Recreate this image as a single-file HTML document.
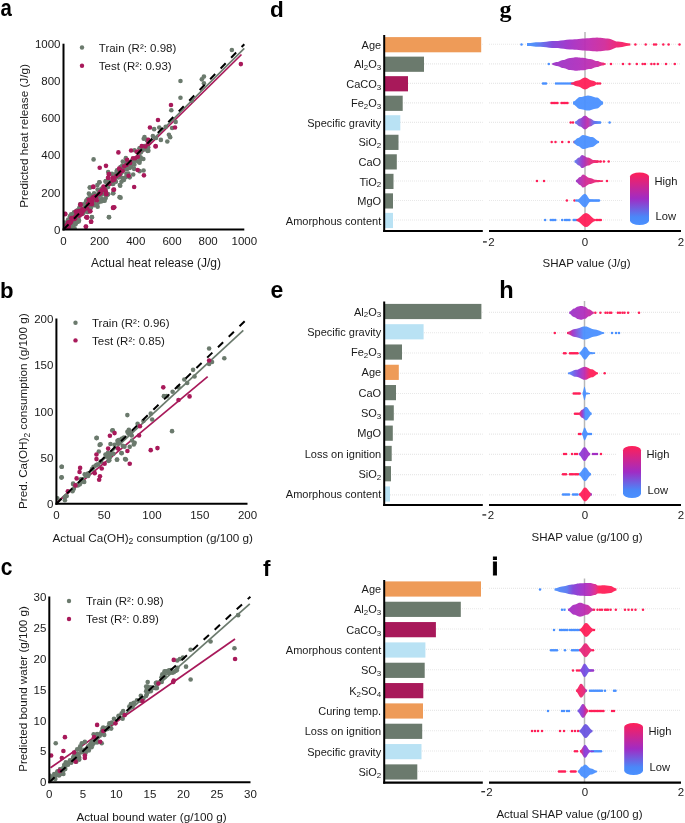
<!DOCTYPE html>
<html><head><meta charset="utf-8"><style>
html,body{margin:0;padding:0;background:#fff;width:685px;height:823px;overflow:hidden}
svg{display:block;will-change:transform}
</style></head><body>
<svg width="685" height="823" viewBox="0 0 685 823">
<rect width="685" height="823" fill="#fff"/>
<text transform="translate(0.5,15.6) scale(0.97,1.12)" font-size="21" font-weight="bold" font-family='"Liberation Sans", sans-serif' fill="#000" >a</text>
<text transform="translate(0,297.9) scale(1.03,1.06)" font-size="21.5" font-weight="bold" font-family='"Liberation Sans", sans-serif' fill="#000" >b</text>
<text transform="translate(0.8,575.2) scale(1.0,1.13)" font-size="21" font-weight="bold" font-family='"Liberation Sans", sans-serif' fill="#000" >c</text>
<text transform="translate(270,17.4) scale(1.0,1.0)" font-size="22.5" font-weight="bold" font-family='"Liberation Sans", sans-serif' fill="#000" >d</text>
<text transform="translate(270.5,298) scale(1.0,1.0)" font-size="23" font-weight="bold" font-family='"Liberation Sans", sans-serif' fill="#000" >e</text>
<text transform="translate(263,575.6) scale(1.0,1.0)" font-size="22.5" font-weight="bold" font-family='"Liberation Sans", sans-serif' fill="#000" >f</text>
<text transform="translate(499.5,17.2) scale(1.0,1.0)" font-size="24" font-weight="bold" font-family='"Liberation Serif", serif' fill="#000" >g</text>
<text transform="translate(499.3,297.9) scale(1.05,1.03)" font-size="22.5" font-weight="bold" font-family='"Liberation Sans", sans-serif' fill="#000" >h</text>
<text transform="translate(491.8,575.4) scale(1.0,1.0)" font-size="23" font-weight="bold" font-family='"Liberation Sans", sans-serif' fill="#000" stroke="#000" stroke-width="0.9">i</text>
<text x="63.50" y="244.80" font-size="11.5" text-anchor="middle" font-weight="normal" font-family='"Liberation Sans", sans-serif' fill="#1a1a1a" >0</text>
<text x="60.50" y="233.60" font-size="11.5" text-anchor="end" font-weight="normal" font-family='"Liberation Sans", sans-serif' fill="#1a1a1a" >0</text>
<text x="99.66" y="244.80" font-size="11.5" text-anchor="middle" font-weight="normal" font-family='"Liberation Sans", sans-serif' fill="#1a1a1a" >200</text>
<text x="60.50" y="196.54" font-size="11.5" text-anchor="end" font-weight="normal" font-family='"Liberation Sans", sans-serif' fill="#1a1a1a" >200</text>
<text x="135.82" y="244.80" font-size="11.5" text-anchor="middle" font-weight="normal" font-family='"Liberation Sans", sans-serif' fill="#1a1a1a" >400</text>
<text x="60.50" y="159.48" font-size="11.5" text-anchor="end" font-weight="normal" font-family='"Liberation Sans", sans-serif' fill="#1a1a1a" >400</text>
<text x="171.98" y="244.80" font-size="11.5" text-anchor="middle" font-weight="normal" font-family='"Liberation Sans", sans-serif' fill="#1a1a1a" >600</text>
<text x="60.50" y="122.42" font-size="11.5" text-anchor="end" font-weight="normal" font-family='"Liberation Sans", sans-serif' fill="#1a1a1a" >600</text>
<text x="208.14" y="244.80" font-size="11.5" text-anchor="middle" font-weight="normal" font-family='"Liberation Sans", sans-serif' fill="#1a1a1a" >800</text>
<text x="60.50" y="85.36" font-size="11.5" text-anchor="end" font-weight="normal" font-family='"Liberation Sans", sans-serif' fill="#1a1a1a" >800</text>
<text x="244.30" y="244.80" font-size="11.5" text-anchor="middle" font-weight="normal" font-family='"Liberation Sans", sans-serif' fill="#1a1a1a" >1000</text>
<text x="60.50" y="48.30" font-size="11.5" text-anchor="end" font-weight="normal" font-family='"Liberation Sans", sans-serif' fill="#1a1a1a" >1000</text>
<line x1="63.50" y1="228.50" x2="244.30" y2="48.30" stroke="#6b7a6d" stroke-width="1.7" />
<line x1="63.50" y1="229.50" x2="241.50" y2="54.50" stroke="#a8195a" stroke-width="1.7" />
<clipPath id="clip1"><rect x="63.5" y="38.2" width="186.8" height="191.3"/></clipPath>
<g clip-path="url(#clip1)">
<circle cx="67.86" cy="225.97" r="2.3" fill="#6b7a6d"/>
<circle cx="74.08" cy="220.31" r="2.3" fill="#6b7a6d"/>
<circle cx="78.18" cy="211.35" r="2.3" fill="#6b7a6d"/>
<circle cx="66.12" cy="226.17" r="2.3" fill="#6b7a6d"/>
<circle cx="87.42" cy="204.09" r="2.3" fill="#6b7a6d"/>
<circle cx="121.56" cy="170.01" r="2.3" fill="#6b7a6d"/>
<circle cx="104.62" cy="187.91" r="2.3" fill="#6b7a6d"/>
<circle cx="130.49" cy="164.56" r="2.3" fill="#6b7a6d"/>
<circle cx="66.91" cy="228.26" r="2.3" fill="#6b7a6d"/>
<circle cx="80.32" cy="206.55" r="2.3" fill="#6b7a6d"/>
<circle cx="103.87" cy="191.92" r="2.3" fill="#6b7a6d"/>
<circle cx="69.46" cy="224.05" r="2.3" fill="#6b7a6d"/>
<circle cx="105.57" cy="191.20" r="2.3" fill="#6b7a6d"/>
<circle cx="72.17" cy="216.89" r="2.3" fill="#6b7a6d"/>
<circle cx="113.91" cy="180.15" r="2.3" fill="#6b7a6d"/>
<circle cx="88.82" cy="199.28" r="2.3" fill="#6b7a6d"/>
<circle cx="101.28" cy="190.28" r="2.3" fill="#6b7a6d"/>
<circle cx="85.40" cy="208.43" r="2.3" fill="#6b7a6d"/>
<circle cx="77.64" cy="210.41" r="2.3" fill="#6b7a6d"/>
<circle cx="110.04" cy="182.25" r="2.3" fill="#6b7a6d"/>
<circle cx="131.11" cy="166.59" r="2.3" fill="#6b7a6d"/>
<circle cx="106.45" cy="194.22" r="2.3" fill="#6b7a6d"/>
<circle cx="121.46" cy="181.72" r="2.3" fill="#6b7a6d"/>
<circle cx="83.79" cy="208.78" r="2.3" fill="#6b7a6d"/>
<circle cx="122.95" cy="169.47" r="2.3" fill="#6b7a6d"/>
<circle cx="82.84" cy="213.58" r="2.3" fill="#6b7a6d"/>
<circle cx="76.86" cy="215.60" r="2.3" fill="#6b7a6d"/>
<circle cx="85.72" cy="206.08" r="2.3" fill="#6b7a6d"/>
<circle cx="70.66" cy="227.75" r="2.3" fill="#6b7a6d"/>
<circle cx="76.49" cy="212.19" r="2.3" fill="#6b7a6d"/>
<circle cx="89.05" cy="201.02" r="2.3" fill="#6b7a6d"/>
<circle cx="75.51" cy="224.29" r="2.3" fill="#6b7a6d"/>
<circle cx="89.08" cy="202.24" r="2.3" fill="#6b7a6d"/>
<circle cx="70.21" cy="223.46" r="2.3" fill="#6b7a6d"/>
<circle cx="77.53" cy="218.28" r="2.3" fill="#6b7a6d"/>
<circle cx="75.62" cy="219.19" r="2.3" fill="#6b7a6d"/>
<circle cx="79.88" cy="207.97" r="2.3" fill="#6b7a6d"/>
<circle cx="81.37" cy="213.83" r="2.3" fill="#6b7a6d"/>
<circle cx="94.09" cy="193.35" r="2.3" fill="#6b7a6d"/>
<circle cx="143.36" cy="158.99" r="2.3" fill="#6b7a6d"/>
<circle cx="75.04" cy="214.25" r="2.3" fill="#6b7a6d"/>
<circle cx="65.45" cy="224.97" r="2.3" fill="#6b7a6d"/>
<circle cx="68.20" cy="225.49" r="2.3" fill="#6b7a6d"/>
<circle cx="67.88" cy="224.35" r="2.3" fill="#6b7a6d"/>
<circle cx="74.02" cy="212.21" r="2.3" fill="#6b7a6d"/>
<circle cx="96.99" cy="195.37" r="2.3" fill="#6b7a6d"/>
<circle cx="73.55" cy="220.89" r="2.3" fill="#6b7a6d"/>
<circle cx="122.95" cy="169.30" r="2.3" fill="#6b7a6d"/>
<circle cx="77.50" cy="214.41" r="2.3" fill="#6b7a6d"/>
<circle cx="71.16" cy="221.24" r="2.3" fill="#6b7a6d"/>
<circle cx="97.39" cy="185.08" r="2.3" fill="#6b7a6d"/>
<circle cx="67.74" cy="224.24" r="2.3" fill="#6b7a6d"/>
<circle cx="64.28" cy="236.94" r="2.3" fill="#6b7a6d"/>
<circle cx="140.79" cy="157.62" r="2.3" fill="#6b7a6d"/>
<circle cx="74.11" cy="216.17" r="2.3" fill="#6b7a6d"/>
<circle cx="86.04" cy="201.41" r="2.3" fill="#6b7a6d"/>
<circle cx="69.95" cy="219.62" r="2.3" fill="#6b7a6d"/>
<circle cx="143.57" cy="170.50" r="2.3" fill="#6b7a6d"/>
<circle cx="115.17" cy="178.21" r="2.3" fill="#6b7a6d"/>
<circle cx="64.34" cy="225.09" r="2.3" fill="#6b7a6d"/>
<circle cx="71.58" cy="221.93" r="2.3" fill="#6b7a6d"/>
<circle cx="134.48" cy="150.26" r="2.3" fill="#6b7a6d"/>
<circle cx="148.17" cy="140.38" r="2.3" fill="#6b7a6d"/>
<circle cx="70.06" cy="223.99" r="2.3" fill="#6b7a6d"/>
<circle cx="69.41" cy="228.73" r="2.3" fill="#6b7a6d"/>
<circle cx="107.17" cy="194.84" r="2.3" fill="#6b7a6d"/>
<circle cx="117.01" cy="170.18" r="2.3" fill="#6b7a6d"/>
<circle cx="142.97" cy="146.88" r="2.3" fill="#6b7a6d"/>
<circle cx="107.12" cy="183.05" r="2.3" fill="#6b7a6d"/>
<circle cx="86.67" cy="200.35" r="2.3" fill="#6b7a6d"/>
<circle cx="133.18" cy="174.54" r="2.3" fill="#6b7a6d"/>
<circle cx="97.65" cy="189.61" r="2.3" fill="#6b7a6d"/>
<circle cx="67.87" cy="220.47" r="2.3" fill="#6b7a6d"/>
<circle cx="87.41" cy="210.50" r="2.3" fill="#6b7a6d"/>
<circle cx="139.80" cy="160.33" r="2.3" fill="#6b7a6d"/>
<circle cx="63.91" cy="226.06" r="2.3" fill="#6b7a6d"/>
<circle cx="139.61" cy="171.16" r="2.3" fill="#6b7a6d"/>
<circle cx="88.72" cy="206.60" r="2.3" fill="#6b7a6d"/>
<circle cx="98.91" cy="195.06" r="2.3" fill="#6b7a6d"/>
<circle cx="80.46" cy="209.79" r="2.3" fill="#6b7a6d"/>
<circle cx="75.62" cy="212.35" r="2.3" fill="#6b7a6d"/>
<circle cx="76.75" cy="210.73" r="2.3" fill="#6b7a6d"/>
<circle cx="120.22" cy="185.80" r="2.3" fill="#6b7a6d"/>
<circle cx="78.88" cy="210.51" r="2.3" fill="#6b7a6d"/>
<circle cx="64.04" cy="230.74" r="2.3" fill="#6b7a6d"/>
<circle cx="86.62" cy="206.02" r="2.3" fill="#6b7a6d"/>
<circle cx="77.20" cy="216.89" r="2.3" fill="#6b7a6d"/>
<circle cx="78.49" cy="219.60" r="2.3" fill="#6b7a6d"/>
<circle cx="116.53" cy="172.14" r="2.3" fill="#6b7a6d"/>
<circle cx="71.51" cy="219.02" r="2.3" fill="#6b7a6d"/>
<circle cx="108.03" cy="194.35" r="2.3" fill="#6b7a6d"/>
<circle cx="134.38" cy="164.70" r="2.3" fill="#6b7a6d"/>
<circle cx="107.97" cy="194.24" r="2.3" fill="#6b7a6d"/>
<circle cx="78.93" cy="214.92" r="2.3" fill="#6b7a6d"/>
<circle cx="90.74" cy="205.78" r="2.3" fill="#6b7a6d"/>
<circle cx="129.73" cy="177.36" r="2.3" fill="#6b7a6d"/>
<circle cx="121.42" cy="171.38" r="2.3" fill="#6b7a6d"/>
<circle cx="76.29" cy="218.71" r="2.3" fill="#6b7a6d"/>
<circle cx="70.46" cy="218.29" r="2.3" fill="#6b7a6d"/>
<circle cx="120.00" cy="170.62" r="2.3" fill="#6b7a6d"/>
<circle cx="84.22" cy="210.53" r="2.3" fill="#6b7a6d"/>
<circle cx="147.65" cy="150.98" r="2.3" fill="#6b7a6d"/>
<circle cx="91.05" cy="206.73" r="2.3" fill="#6b7a6d"/>
<circle cx="144.23" cy="146.00" r="2.3" fill="#6b7a6d"/>
<circle cx="75.98" cy="220.61" r="2.3" fill="#6b7a6d"/>
<circle cx="72.71" cy="220.83" r="2.3" fill="#6b7a6d"/>
<circle cx="93.03" cy="205.30" r="2.3" fill="#6b7a6d"/>
<circle cx="73.09" cy="221.40" r="2.3" fill="#6b7a6d"/>
<circle cx="108.17" cy="171.99" r="2.3" fill="#6b7a6d"/>
<circle cx="122.29" cy="165.44" r="2.3" fill="#6b7a6d"/>
<circle cx="71.18" cy="216.36" r="2.3" fill="#6b7a6d"/>
<circle cx="67.25" cy="224.50" r="2.3" fill="#6b7a6d"/>
<circle cx="89.87" cy="202.43" r="2.3" fill="#6b7a6d"/>
<circle cx="90.09" cy="206.65" r="2.3" fill="#6b7a6d"/>
<circle cx="113.96" cy="178.76" r="2.3" fill="#6b7a6d"/>
<circle cx="105.50" cy="187.67" r="2.3" fill="#6b7a6d"/>
<circle cx="90.64" cy="208.27" r="2.3" fill="#6b7a6d"/>
<circle cx="88.27" cy="211.08" r="2.3" fill="#6b7a6d"/>
<circle cx="88.46" cy="208.90" r="2.3" fill="#6b7a6d"/>
<circle cx="120.91" cy="172.06" r="2.3" fill="#6b7a6d"/>
<circle cx="67.24" cy="228.16" r="2.3" fill="#6b7a6d"/>
<circle cx="68.17" cy="225.35" r="2.3" fill="#6b7a6d"/>
<circle cx="69.34" cy="224.87" r="2.3" fill="#6b7a6d"/>
<circle cx="101.34" cy="188.79" r="2.3" fill="#6b7a6d"/>
<circle cx="68.65" cy="224.84" r="2.3" fill="#6b7a6d"/>
<circle cx="63.94" cy="228.60" r="2.3" fill="#6b7a6d"/>
<circle cx="109.37" cy="182.60" r="2.3" fill="#6b7a6d"/>
<circle cx="125.85" cy="162.30" r="2.3" fill="#6b7a6d"/>
<circle cx="105.71" cy="198.12" r="2.3" fill="#6b7a6d"/>
<circle cx="78.16" cy="215.01" r="2.3" fill="#6b7a6d"/>
<circle cx="122.62" cy="178.17" r="2.3" fill="#6b7a6d"/>
<circle cx="111.98" cy="173.70" r="2.3" fill="#6b7a6d"/>
<circle cx="73.55" cy="217.98" r="2.3" fill="#6b7a6d"/>
<circle cx="84.93" cy="207.91" r="2.3" fill="#6b7a6d"/>
<circle cx="68.22" cy="219.60" r="2.3" fill="#6b7a6d"/>
<circle cx="140.14" cy="148.19" r="2.3" fill="#6b7a6d"/>
<circle cx="70.51" cy="223.66" r="2.3" fill="#6b7a6d"/>
<circle cx="76.40" cy="213.07" r="2.3" fill="#6b7a6d"/>
<circle cx="91.32" cy="196.97" r="2.3" fill="#6b7a6d"/>
<circle cx="91.43" cy="203.25" r="2.3" fill="#6b7a6d"/>
<circle cx="73.82" cy="216.03" r="2.3" fill="#6b7a6d"/>
<circle cx="78.04" cy="215.31" r="2.3" fill="#6b7a6d"/>
<circle cx="78.10" cy="212.38" r="2.3" fill="#6b7a6d"/>
<circle cx="75.06" cy="218.16" r="2.3" fill="#6b7a6d"/>
<circle cx="64.15" cy="229.60" r="2.3" fill="#6b7a6d"/>
<circle cx="108.69" cy="181.87" r="2.3" fill="#6b7a6d"/>
<circle cx="112.64" cy="184.05" r="2.3" fill="#6b7a6d"/>
<circle cx="72.93" cy="227.24" r="2.3" fill="#6b7a6d"/>
<circle cx="126.95" cy="169.17" r="2.3" fill="#6b7a6d"/>
<circle cx="87.66" cy="211.93" r="2.3" fill="#6b7a6d"/>
<circle cx="139.04" cy="157.21" r="2.3" fill="#6b7a6d"/>
<circle cx="78.65" cy="221.56" r="2.3" fill="#6b7a6d"/>
<circle cx="87.65" cy="203.33" r="2.3" fill="#6b7a6d"/>
<circle cx="119.87" cy="184.93" r="2.3" fill="#6b7a6d"/>
<circle cx="113.74" cy="180.41" r="2.3" fill="#6b7a6d"/>
<circle cx="73.93" cy="218.47" r="2.3" fill="#6b7a6d"/>
<circle cx="87.68" cy="211.47" r="2.3" fill="#6b7a6d"/>
<circle cx="113.35" cy="183.75" r="2.3" fill="#6b7a6d"/>
<circle cx="63.60" cy="227.95" r="2.3" fill="#6b7a6d"/>
<circle cx="78.98" cy="220.39" r="2.3" fill="#6b7a6d"/>
<circle cx="94.46" cy="199.65" r="2.3" fill="#6b7a6d"/>
<circle cx="71.18" cy="224.57" r="2.3" fill="#6b7a6d"/>
<circle cx="98.74" cy="196.02" r="2.3" fill="#6b7a6d"/>
<circle cx="74.57" cy="228.34" r="2.3" fill="#6b7a6d"/>
<circle cx="83.28" cy="209.66" r="2.3" fill="#6b7a6d"/>
<circle cx="94.81" cy="205.31" r="2.3" fill="#6b7a6d"/>
<circle cx="70.85" cy="222.47" r="2.3" fill="#6b7a6d"/>
<circle cx="92.81" cy="204.76" r="2.3" fill="#6b7a6d"/>
<circle cx="71.28" cy="224.36" r="2.3" fill="#6b7a6d"/>
<circle cx="101.37" cy="199.27" r="2.3" fill="#6b7a6d"/>
<circle cx="76.94" cy="218.21" r="2.3" fill="#6b7a6d"/>
<circle cx="128.21" cy="165.84" r="2.3" fill="#6b7a6d"/>
<circle cx="146.86" cy="140.36" r="2.3" fill="#6b7a6d"/>
<circle cx="122.18" cy="171.64" r="2.3" fill="#6b7a6d"/>
<circle cx="71.27" cy="219.91" r="2.3" fill="#6b7a6d"/>
<circle cx="80.32" cy="204.18" r="2.3" fill="#6b7a6d"/>
<circle cx="78.66" cy="212.83" r="2.3" fill="#6b7a6d"/>
<circle cx="108.06" cy="186.93" r="2.3" fill="#6b7a6d"/>
<circle cx="140.97" cy="152.35" r="2.3" fill="#6b7a6d"/>
<circle cx="64.22" cy="222.43" r="2.3" fill="#6b7a6d"/>
<circle cx="77.72" cy="218.63" r="2.3" fill="#6b7a6d"/>
<circle cx="73.45" cy="218.92" r="2.3" fill="#6b7a6d"/>
<circle cx="87.81" cy="198.82" r="2.3" fill="#6b7a6d"/>
<circle cx="96.12" cy="197.66" r="2.3" fill="#6b7a6d"/>
<circle cx="141.21" cy="149.15" r="2.3" fill="#6b7a6d"/>
<circle cx="74.87" cy="220.14" r="2.3" fill="#6b7a6d"/>
<circle cx="138.08" cy="161.49" r="2.3" fill="#6b7a6d"/>
<circle cx="64.90" cy="225.68" r="2.3" fill="#6b7a6d"/>
<circle cx="87.65" cy="208.18" r="2.3" fill="#6b7a6d"/>
<circle cx="71.19" cy="214.35" r="2.3" fill="#6b7a6d"/>
<circle cx="68.99" cy="229.83" r="2.3" fill="#6b7a6d"/>
<circle cx="143.72" cy="138.76" r="2.3" fill="#6b7a6d"/>
<circle cx="120.50" cy="167.08" r="2.3" fill="#6b7a6d"/>
<circle cx="93.95" cy="201.93" r="2.3" fill="#6b7a6d"/>
<circle cx="106.29" cy="187.72" r="2.3" fill="#6b7a6d"/>
<circle cx="64.92" cy="232.49" r="2.3" fill="#6b7a6d"/>
<circle cx="126.39" cy="173.86" r="2.3" fill="#6b7a6d"/>
<circle cx="84.88" cy="208.04" r="2.3" fill="#6b7a6d"/>
<circle cx="129.75" cy="167.99" r="2.3" fill="#6b7a6d"/>
<circle cx="104.55" cy="193.09" r="2.3" fill="#6b7a6d"/>
<circle cx="68.18" cy="223.12" r="2.3" fill="#6b7a6d"/>
<circle cx="69.86" cy="216.40" r="2.3" fill="#6b7a6d"/>
<circle cx="148.39" cy="150.66" r="2.3" fill="#6b7a6d"/>
<circle cx="66.12" cy="226.42" r="2.3" fill="#6b7a6d"/>
<circle cx="66.14" cy="226.77" r="2.3" fill="#6b7a6d"/>
<circle cx="119.70" cy="170.27" r="2.3" fill="#6b7a6d"/>
<circle cx="105.12" cy="194.31" r="2.3" fill="#6b7a6d"/>
<circle cx="73.28" cy="217.80" r="2.3" fill="#6b7a6d"/>
<circle cx="71.53" cy="219.97" r="2.3" fill="#6b7a6d"/>
<circle cx="81.71" cy="212.17" r="2.3" fill="#6b7a6d"/>
<circle cx="128.63" cy="166.71" r="2.3" fill="#6b7a6d"/>
<circle cx="76.40" cy="214.23" r="2.3" fill="#6b7a6d"/>
<circle cx="144.65" cy="149.45" r="2.3" fill="#6b7a6d"/>
<circle cx="84.02" cy="210.12" r="2.3" fill="#6b7a6d"/>
<circle cx="135.14" cy="159.85" r="2.3" fill="#6b7a6d"/>
<circle cx="90.31" cy="203.44" r="2.3" fill="#6b7a6d"/>
<circle cx="118.72" cy="171.42" r="2.3" fill="#6b7a6d"/>
<circle cx="67.97" cy="225.57" r="2.3" fill="#6b7a6d"/>
<circle cx="83.23" cy="204.35" r="2.3" fill="#6b7a6d"/>
<circle cx="115.93" cy="181.70" r="2.3" fill="#6b7a6d"/>
<circle cx="79.45" cy="207.56" r="2.3" fill="#6b7a6d"/>
<circle cx="90.11" cy="201.73" r="2.3" fill="#6b7a6d"/>
<circle cx="101.77" cy="189.64" r="2.3" fill="#6b7a6d"/>
<circle cx="113.90" cy="177.39" r="2.3" fill="#6b7a6d"/>
<circle cx="65.54" cy="231.53" r="2.3" fill="#6b7a6d"/>
<circle cx="69.97" cy="223.87" r="2.3" fill="#6b7a6d"/>
<circle cx="92.75" cy="202.60" r="2.3" fill="#6b7a6d"/>
<circle cx="139.48" cy="148.30" r="2.3" fill="#6b7a6d"/>
<circle cx="135.19" cy="159.22" r="2.3" fill="#6b7a6d"/>
<circle cx="141.00" cy="148.84" r="2.3" fill="#6b7a6d"/>
<circle cx="64.13" cy="233.38" r="2.3" fill="#6b7a6d"/>
<circle cx="70.94" cy="222.20" r="2.3" fill="#6b7a6d"/>
<circle cx="120.86" cy="173.42" r="2.3" fill="#6b7a6d"/>
<circle cx="75.67" cy="216.72" r="2.3" fill="#6b7a6d"/>
<circle cx="98.52" cy="193.13" r="2.3" fill="#6b7a6d"/>
<circle cx="69.44" cy="228.85" r="2.3" fill="#6b7a6d"/>
<circle cx="131.05" cy="161.74" r="2.3" fill="#6b7a6d"/>
<circle cx="85.50" cy="210.76" r="2.3" fill="#6b7a6d"/>
<circle cx="91.04" cy="205.51" r="2.3" fill="#6b7a6d"/>
<circle cx="75.56" cy="217.69" r="2.3" fill="#6b7a6d"/>
<circle cx="121.59" cy="169.34" r="2.3" fill="#6b7a6d"/>
<circle cx="91.68" cy="198.56" r="2.3" fill="#6b7a6d"/>
<circle cx="65.00" cy="225.21" r="2.3" fill="#6b7a6d"/>
<circle cx="145.53" cy="146.99" r="2.3" fill="#6b7a6d"/>
<circle cx="123.09" cy="166.59" r="2.3" fill="#6b7a6d"/>
<circle cx="90.57" cy="204.76" r="2.3" fill="#6b7a6d"/>
<circle cx="93.41" cy="202.63" r="2.3" fill="#6b7a6d"/>
<circle cx="73.10" cy="223.05" r="2.3" fill="#6b7a6d"/>
<circle cx="63.58" cy="229.93" r="2.3" fill="#6b7a6d"/>
<circle cx="126.30" cy="162.71" r="2.3" fill="#6b7a6d"/>
<circle cx="128.41" cy="173.55" r="2.3" fill="#6b7a6d"/>
<circle cx="105.72" cy="180.93" r="2.3" fill="#6b7a6d"/>
<circle cx="77.20" cy="221.90" r="2.3" fill="#6b7a6d"/>
<circle cx="74.04" cy="213.60" r="2.3" fill="#6b7a6d"/>
<circle cx="123.93" cy="180.05" r="2.3" fill="#6b7a6d"/>
<circle cx="93.68" cy="195.73" r="2.3" fill="#6b7a6d"/>
<circle cx="65.31" cy="225.67" r="2.3" fill="#6b7a6d"/>
<circle cx="120.05" cy="176.62" r="2.3" fill="#6b7a6d"/>
<circle cx="71.38" cy="217.33" r="2.3" fill="#6b7a6d"/>
<circle cx="84.23" cy="210.78" r="2.3" fill="#6b7a6d"/>
<circle cx="71.47" cy="216.08" r="2.3" fill="#6b7a6d"/>
<circle cx="139.21" cy="155.51" r="2.3" fill="#6b7a6d"/>
<circle cx="123.78" cy="170.11" r="2.3" fill="#6b7a6d"/>
<circle cx="147.31" cy="139.70" r="2.3" fill="#6b7a6d"/>
<circle cx="70.76" cy="225.95" r="2.3" fill="#6b7a6d"/>
<circle cx="127.79" cy="163.79" r="2.3" fill="#6b7a6d"/>
<circle cx="115.13" cy="174.97" r="2.3" fill="#6b7a6d"/>
<circle cx="102.50" cy="199.19" r="2.3" fill="#6b7a6d"/>
<circle cx="73.97" cy="219.02" r="2.3" fill="#6b7a6d"/>
<circle cx="85.28" cy="209.92" r="2.3" fill="#6b7a6d"/>
<circle cx="65.37" cy="223.88" r="2.3" fill="#6b7a6d"/>
<circle cx="91.86" cy="200.71" r="2.3" fill="#6b7a6d"/>
<circle cx="148.17" cy="147.35" r="2.3" fill="#6b7a6d"/>
<circle cx="77.92" cy="213.91" r="2.3" fill="#6b7a6d"/>
<circle cx="106.17" cy="187.43" r="2.3" fill="#6b7a6d"/>
<circle cx="113.15" cy="175.47" r="2.3" fill="#6b7a6d"/>
<circle cx="118.46" cy="177.49" r="2.3" fill="#6b7a6d"/>
<circle cx="101.46" cy="194.69" r="2.3" fill="#6b7a6d"/>
<circle cx="103.89" cy="190.42" r="2.3" fill="#6b7a6d"/>
<circle cx="70.60" cy="224.80" r="2.3" fill="#6b7a6d"/>
<circle cx="89.08" cy="207.95" r="2.3" fill="#6b7a6d"/>
<circle cx="92.21" cy="203.41" r="2.3" fill="#6b7a6d"/>
<circle cx="70.19" cy="221.25" r="2.3" fill="#6b7a6d"/>
<circle cx="125.75" cy="177.25" r="2.3" fill="#6b7a6d"/>
<circle cx="87.20" cy="201.44" r="2.3" fill="#6b7a6d"/>
<circle cx="72.00" cy="227.58" r="2.3" fill="#6b7a6d"/>
<circle cx="68.98" cy="219.93" r="2.3" fill="#6b7a6d"/>
<circle cx="132.59" cy="163.69" r="2.3" fill="#6b7a6d"/>
<circle cx="134.53" cy="161.06" r="2.3" fill="#6b7a6d"/>
<circle cx="125.84" cy="158.14" r="2.3" fill="#6b7a6d"/>
<circle cx="111.48" cy="181.73" r="2.3" fill="#6b7a6d"/>
<circle cx="69.40" cy="220.69" r="2.3" fill="#6b7a6d"/>
<circle cx="80.84" cy="214.12" r="2.3" fill="#6b7a6d"/>
<circle cx="72.97" cy="222.18" r="2.3" fill="#6b7a6d"/>
<circle cx="98.12" cy="197.01" r="2.3" fill="#6b7a6d"/>
<circle cx="109.27" cy="181.62" r="2.3" fill="#6b7a6d"/>
<circle cx="66.43" cy="229.76" r="2.3" fill="#6b7a6d"/>
<circle cx="95.23" cy="195.06" r="2.3" fill="#6b7a6d"/>
<circle cx="83.62" cy="212.66" r="2.3" fill="#6b7a6d"/>
<circle cx="91.07" cy="200.73" r="2.3" fill="#6b7a6d"/>
<circle cx="93.58" cy="159.42" r="2.3" fill="#6b7a6d"/>
<circle cx="120.58" cy="197.66" r="2.3" fill="#6b7a6d"/>
<circle cx="108.91" cy="217.08" r="2.3" fill="#6b7a6d"/>
<circle cx="91.82" cy="217.08" r="2.3" fill="#6b7a6d"/>
<circle cx="113.28" cy="193.28" r="2.3" fill="#6b7a6d"/>
<circle cx="99.42" cy="182.34" r="2.3" fill="#6b7a6d"/>
<circle cx="139.56" cy="162.63" r="2.3" fill="#6b7a6d"/>
<circle cx="134.16" cy="168.91" r="2.3" fill="#6b7a6d"/>
<circle cx="89.93" cy="187.45" r="2.3" fill="#6b7a6d"/>
<circle cx="103.80" cy="200.58" r="2.3" fill="#6b7a6d"/>
<circle cx="122.77" cy="161.61" r="2.3" fill="#6b7a6d"/>
<circle cx="231.86" cy="49.96" r="2.3" fill="#6b7a6d"/>
<circle cx="180.47" cy="80.95" r="2.3" fill="#6b7a6d"/>
<circle cx="201.83" cy="79.34" r="2.3" fill="#6b7a6d"/>
<circle cx="203.92" cy="76.61" r="2.3" fill="#6b7a6d"/>
<circle cx="203.92" cy="83.36" r="2.3" fill="#6b7a6d"/>
<circle cx="180.47" cy="97.81" r="2.3" fill="#6b7a6d"/>
<circle cx="191.71" cy="100.70" r="2.3" fill="#6b7a6d"/>
<circle cx="171.32" cy="110.18" r="2.3" fill="#6b7a6d"/>
<circle cx="175.65" cy="121.90" r="2.3" fill="#6b7a6d"/>
<circle cx="172.12" cy="128.00" r="2.3" fill="#6b7a6d"/>
<circle cx="165.69" cy="126.72" r="2.3" fill="#6b7a6d"/>
<circle cx="159.27" cy="127.52" r="2.3" fill="#6b7a6d"/>
<circle cx="154.13" cy="129.13" r="2.3" fill="#6b7a6d"/>
<circle cx="168.91" cy="134.75" r="2.3" fill="#6b7a6d"/>
<circle cx="170.19" cy="137.16" r="2.3" fill="#6b7a6d"/>
<circle cx="167.30" cy="141.49" r="2.3" fill="#6b7a6d"/>
<circle cx="160.88" cy="139.89" r="2.3" fill="#6b7a6d"/>
<circle cx="156.06" cy="137.96" r="2.3" fill="#6b7a6d"/>
<circle cx="152.85" cy="136.03" r="2.3" fill="#6b7a6d"/>
<circle cx="144.50" cy="137.16" r="2.3" fill="#6b7a6d"/>
<circle cx="99.40" cy="182.26" r="2.3" fill="#6b7a6d"/>
<circle cx="89.77" cy="187.51" r="2.3" fill="#6b7a6d"/>
<circle cx="88.90" cy="193.64" r="2.3" fill="#6b7a6d"/>
<circle cx="90.21" cy="195.39" r="2.3" fill="#6b7a6d"/>
<circle cx="104.66" cy="200.65" r="2.3" fill="#6b7a6d"/>
<circle cx="101.16" cy="201.52" r="2.3" fill="#6b7a6d"/>
<circle cx="98.53" cy="202.40" r="2.3" fill="#6b7a6d"/>
<circle cx="96.78" cy="205.03" r="2.3" fill="#6b7a6d"/>
<circle cx="97.65" cy="206.78" r="2.3" fill="#6b7a6d"/>
<circle cx="91.96" cy="217.29" r="2.3" fill="#6b7a6d"/>
<circle cx="109.04" cy="217.29" r="2.3" fill="#6b7a6d"/>
<circle cx="112.98" cy="193.20" r="2.3" fill="#6b7a6d"/>
<circle cx="119.54" cy="197.15" r="2.3" fill="#6b7a6d"/>
<circle cx="105.53" cy="181.82" r="2.3" fill="#6b7a6d"/>
<circle cx="79.89" cy="213.88" r="2.3" fill="#a8195a"/>
<circle cx="148.39" cy="139.88" r="2.3" fill="#a8195a"/>
<circle cx="69.20" cy="223.80" r="2.3" fill="#a8195a"/>
<circle cx="89.58" cy="204.12" r="2.3" fill="#a8195a"/>
<circle cx="87.23" cy="208.57" r="2.3" fill="#a8195a"/>
<circle cx="68.20" cy="222.86" r="2.3" fill="#a8195a"/>
<circle cx="79.46" cy="215.66" r="2.3" fill="#a8195a"/>
<circle cx="81.50" cy="214.19" r="2.3" fill="#a8195a"/>
<circle cx="78.09" cy="213.66" r="2.3" fill="#a8195a"/>
<circle cx="90.27" cy="200.75" r="2.3" fill="#a8195a"/>
<circle cx="77.69" cy="213.39" r="2.3" fill="#a8195a"/>
<circle cx="67.16" cy="229.57" r="2.3" fill="#a8195a"/>
<circle cx="147.86" cy="144.10" r="2.3" fill="#a8195a"/>
<circle cx="132.98" cy="158.18" r="2.3" fill="#a8195a"/>
<circle cx="138.87" cy="151.45" r="2.3" fill="#a8195a"/>
<circle cx="99.25" cy="194.02" r="2.3" fill="#a8195a"/>
<circle cx="87.98" cy="203.81" r="2.3" fill="#a8195a"/>
<circle cx="75.06" cy="218.61" r="2.3" fill="#a8195a"/>
<circle cx="74.60" cy="217.21" r="2.3" fill="#a8195a"/>
<circle cx="120.01" cy="170.20" r="2.3" fill="#a8195a"/>
<circle cx="79.77" cy="212.80" r="2.3" fill="#a8195a"/>
<circle cx="96.05" cy="196.74" r="2.3" fill="#a8195a"/>
<circle cx="109.33" cy="183.97" r="2.3" fill="#a8195a"/>
<circle cx="80.35" cy="213.35" r="2.3" fill="#a8195a"/>
<circle cx="82.56" cy="211.87" r="2.3" fill="#a8195a"/>
<circle cx="81.40" cy="210.50" r="2.3" fill="#a8195a"/>
<circle cx="70.31" cy="222.29" r="2.3" fill="#a8195a"/>
<circle cx="68.69" cy="226.93" r="2.3" fill="#a8195a"/>
<circle cx="66.60" cy="225.19" r="2.3" fill="#a8195a"/>
<circle cx="76.29" cy="215.06" r="2.3" fill="#a8195a"/>
<circle cx="64.68" cy="228.70" r="2.3" fill="#a8195a"/>
<circle cx="116.33" cy="176.16" r="2.3" fill="#a8195a"/>
<circle cx="65.07" cy="229.37" r="2.3" fill="#a8195a"/>
<circle cx="126.61" cy="164.88" r="2.3" fill="#a8195a"/>
<circle cx="148.38" cy="143.17" r="2.3" fill="#a8195a"/>
<circle cx="91.90" cy="204.16" r="2.3" fill="#a8195a"/>
<circle cx="91.17" cy="200.07" r="2.3" fill="#a8195a"/>
<circle cx="121.03" cy="171.34" r="2.3" fill="#a8195a"/>
<circle cx="73.65" cy="219.06" r="2.3" fill="#a8195a"/>
<circle cx="130.12" cy="162.89" r="2.3" fill="#a8195a"/>
<circle cx="96.84" cy="200.20" r="2.3" fill="#a8195a"/>
<circle cx="71.10" cy="221.76" r="2.3" fill="#a8195a"/>
<circle cx="72.73" cy="219.01" r="2.3" fill="#a8195a"/>
<circle cx="90.59" cy="201.44" r="2.3" fill="#a8195a"/>
<circle cx="119.95" cy="169.38" r="2.3" fill="#a8195a"/>
<circle cx="78.85" cy="211.02" r="2.3" fill="#a8195a"/>
<circle cx="103.49" cy="186.47" r="2.3" fill="#a8195a"/>
<circle cx="119.55" cy="174.45" r="2.3" fill="#a8195a"/>
<circle cx="92.22" cy="201.48" r="2.3" fill="#a8195a"/>
<circle cx="100.57" cy="193.15" r="2.3" fill="#a8195a"/>
<circle cx="137.78" cy="156.64" r="2.3" fill="#a8195a"/>
<circle cx="68.61" cy="222.18" r="2.3" fill="#a8195a"/>
<circle cx="93.91" cy="197.65" r="2.3" fill="#a8195a"/>
<circle cx="122.67" cy="170.72" r="2.3" fill="#a8195a"/>
<circle cx="112.83" cy="179.00" r="2.3" fill="#a8195a"/>
<circle cx="67.82" cy="224.98" r="2.3" fill="#a8195a"/>
<circle cx="105.71" cy="191.21" r="2.3" fill="#a8195a"/>
<circle cx="70.07" cy="223.04" r="2.3" fill="#a8195a"/>
<circle cx="93.11" cy="197.19" r="2.3" fill="#a8195a"/>
<circle cx="73.83" cy="218.89" r="2.3" fill="#a8195a"/>
<circle cx="65.11" cy="214.16" r="2.3" fill="#a8195a"/>
<circle cx="85.99" cy="226.86" r="2.3" fill="#a8195a"/>
<circle cx="91.09" cy="221.75" r="2.3" fill="#a8195a"/>
<circle cx="90.22" cy="211.24" r="2.3" fill="#a8195a"/>
<circle cx="87.01" cy="217.08" r="2.3" fill="#a8195a"/>
<circle cx="113.28" cy="207.88" r="2.3" fill="#a8195a"/>
<circle cx="114.01" cy="189.64" r="2.3" fill="#a8195a"/>
<circle cx="106.42" cy="194.31" r="2.3" fill="#a8195a"/>
<circle cx="93.28" cy="187.01" r="2.3" fill="#a8195a"/>
<circle cx="99.71" cy="167.74" r="2.3" fill="#a8195a"/>
<circle cx="105.99" cy="165.84" r="2.3" fill="#a8195a"/>
<circle cx="118.39" cy="152.41" r="2.3" fill="#a8195a"/>
<circle cx="134.16" cy="187.01" r="2.3" fill="#a8195a"/>
<circle cx="143.94" cy="175.33" r="2.3" fill="#a8195a"/>
<circle cx="137.66" cy="169.93" r="2.3" fill="#a8195a"/>
<circle cx="128.61" cy="175.77" r="2.3" fill="#a8195a"/>
<circle cx="155.62" cy="146.57" r="2.3" fill="#a8195a"/>
<circle cx="141.75" cy="146.13" r="2.3" fill="#a8195a"/>
<circle cx="145.40" cy="146.57" r="2.3" fill="#a8195a"/>
<circle cx="131.09" cy="150.51" r="2.3" fill="#a8195a"/>
<circle cx="136.64" cy="151.68" r="2.3" fill="#a8195a"/>
<circle cx="135.18" cy="158.25" r="2.3" fill="#a8195a"/>
<circle cx="127.15" cy="159.71" r="2.3" fill="#a8195a"/>
<circle cx="119.12" cy="168.47" r="2.3" fill="#a8195a"/>
<circle cx="124.23" cy="166.28" r="2.3" fill="#a8195a"/>
<circle cx="108.91" cy="174.31" r="2.3" fill="#a8195a"/>
<circle cx="108.18" cy="177.96" r="2.3" fill="#a8195a"/>
<circle cx="80.44" cy="204.23" r="2.3" fill="#a8195a"/>
<circle cx="240.85" cy="64.09" r="2.3" fill="#a8195a"/>
<circle cx="170.99" cy="105.04" r="2.3" fill="#a8195a"/>
<circle cx="157.99" cy="119.97" r="2.3" fill="#a8195a"/>
<circle cx="149.96" cy="127.52" r="2.3" fill="#a8195a"/>
<circle cx="175.01" cy="127.52" r="2.3" fill="#a8195a"/>
<circle cx="155.58" cy="145.99" r="2.3" fill="#a8195a"/>
<circle cx="109.04" cy="173.94" r="2.3" fill="#a8195a"/>
<circle cx="108.16" cy="177.44" r="2.3" fill="#a8195a"/>
<circle cx="112.54" cy="177.88" r="2.3" fill="#a8195a"/>
<circle cx="114.29" cy="179.63" r="2.3" fill="#a8195a"/>
<circle cx="112.54" cy="180.51" r="2.3" fill="#a8195a"/>
<circle cx="93.27" cy="186.64" r="2.3" fill="#a8195a"/>
<circle cx="104.66" cy="189.26" r="2.3" fill="#a8195a"/>
<circle cx="105.97" cy="193.64" r="2.3" fill="#a8195a"/>
<circle cx="113.42" cy="189.70" r="2.3" fill="#a8195a"/>
<circle cx="112.98" cy="207.65" r="2.3" fill="#a8195a"/>
<circle cx="114.29" cy="207.22" r="2.3" fill="#a8195a"/>
<circle cx="90.21" cy="211.16" r="2.3" fill="#a8195a"/>
<circle cx="80.58" cy="205.03" r="2.3" fill="#a8195a"/>
<circle cx="75.76" cy="211.59" r="2.3" fill="#a8195a"/>
<circle cx="65.25" cy="213.78" r="2.3" fill="#a8195a"/>
<circle cx="86.27" cy="217.29" r="2.3" fill="#a8195a"/>
<circle cx="87.15" cy="217.72" r="2.3" fill="#a8195a"/>
<circle cx="91.09" cy="221.66" r="2.3" fill="#a8195a"/>
<circle cx="85.83" cy="226.48" r="2.3" fill="#a8195a"/>
<circle cx="67.88" cy="227.36" r="2.3" fill="#a8195a"/>
<circle cx="71.38" cy="218.16" r="2.3" fill="#a8195a"/>
<circle cx="82.33" cy="209.40" r="2.3" fill="#a8195a"/>
<circle cx="83.64" cy="210.28" r="2.3" fill="#a8195a"/>
<circle cx="81.02" cy="212.91" r="2.3" fill="#a8195a"/>
<circle cx="88.90" cy="199.77" r="2.3" fill="#a8195a"/>
<circle cx="92.40" cy="198.02" r="2.3" fill="#a8195a"/>
<circle cx="95.03" cy="196.27" r="2.3" fill="#a8195a"/>
<circle cx="100.28" cy="191.89" r="2.3" fill="#a8195a"/>
<circle cx="102.03" cy="190.14" r="2.3" fill="#a8195a"/>
</g>
<line x1="63.50" y1="229.50" x2="244.30" y2="44.20" stroke="#000" stroke-width="2" stroke-dasharray="7.2,7.8"/>
<line x1="63.50" y1="43.70" x2="63.50" y2="230.50" stroke="#000" stroke-width="2" />
<line x1="62.50" y1="229.50" x2="244.30" y2="229.50" stroke="#000" stroke-width="2" />
<text x="156" y="266.6" font-size="12" text-anchor="middle" font-family='"Liberation Sans", sans-serif' fill="#1a1a1a">Actual heat release (J/g)</text>
<text transform="translate(28.3,136) rotate(-90)" font-size="11.7" text-anchor="middle" font-family='"Liberation Sans", sans-serif' fill="#1a1a1a">Predicted heat release (J/g)</text>
<circle cx="82.00" cy="47.50" r="2.2" fill="#6b7a6d"/>
<circle cx="82.00" cy="65.80" r="2.2" fill="#a8195a"/>
<text x="98.80" y="51.60" font-size="11.5" text-anchor="start" font-weight="normal" font-family='"Liberation Sans", sans-serif' fill="#1a1a1a" >Train (R²: 0.98)</text>
<text x="98.80" y="69.90" font-size="11.5" text-anchor="start" font-weight="normal" font-family='"Liberation Sans", sans-serif' fill="#1a1a1a" >Test (R²: 0.93)</text>
<text x="56.40" y="519.10" font-size="11.5" text-anchor="middle" font-weight="normal" font-family='"Liberation Sans", sans-serif' fill="#1a1a1a" >0</text>
<text x="53.40" y="507.90" font-size="11.5" text-anchor="end" font-weight="normal" font-family='"Liberation Sans", sans-serif' fill="#1a1a1a" >0</text>
<text x="104.17" y="519.10" font-size="11.5" text-anchor="middle" font-weight="normal" font-family='"Liberation Sans", sans-serif' fill="#1a1a1a" >50</text>
<text x="53.40" y="461.70" font-size="11.5" text-anchor="end" font-weight="normal" font-family='"Liberation Sans", sans-serif' fill="#1a1a1a" >50</text>
<text x="151.95" y="519.10" font-size="11.5" text-anchor="middle" font-weight="normal" font-family='"Liberation Sans", sans-serif' fill="#1a1a1a" >100</text>
<text x="53.40" y="415.50" font-size="11.5" text-anchor="end" font-weight="normal" font-family='"Liberation Sans", sans-serif' fill="#1a1a1a" >100</text>
<text x="199.72" y="519.10" font-size="11.5" text-anchor="middle" font-weight="normal" font-family='"Liberation Sans", sans-serif' fill="#1a1a1a" >150</text>
<text x="53.40" y="369.30" font-size="11.5" text-anchor="end" font-weight="normal" font-family='"Liberation Sans", sans-serif' fill="#1a1a1a" >150</text>
<text x="247.50" y="519.10" font-size="11.5" text-anchor="middle" font-weight="normal" font-family='"Liberation Sans", sans-serif' fill="#1a1a1a" >200</text>
<text x="53.40" y="323.10" font-size="11.5" text-anchor="end" font-weight="normal" font-family='"Liberation Sans", sans-serif' fill="#1a1a1a" >200</text>
<line x1="56.40" y1="502.80" x2="243.30" y2="330.40" stroke="#6b7a6d" stroke-width="1.7" />
<line x1="56.40" y1="502.80" x2="207.70" y2="376.60" stroke="#a8195a" stroke-width="1.7" />
<clipPath id="clip2"><rect x="56.4" y="313.0" width="197.1" height="190.8"/></clipPath>
<g clip-path="url(#clip2)">
<circle cx="61.68" cy="466.79" r="2.3" fill="#6b7a6d"/>
<circle cx="61.68" cy="477.30" r="2.3" fill="#6b7a6d"/>
<circle cx="66.64" cy="495.99" r="2.3" fill="#6b7a6d"/>
<circle cx="73.36" cy="484.31" r="2.3" fill="#6b7a6d"/>
<circle cx="82.12" cy="480.80" r="2.3" fill="#6b7a6d"/>
<circle cx="87.96" cy="473.50" r="2.3" fill="#6b7a6d"/>
<circle cx="92.34" cy="469.12" r="2.3" fill="#6b7a6d"/>
<circle cx="96.72" cy="464.74" r="2.3" fill="#6b7a6d"/>
<circle cx="101.09" cy="461.82" r="2.3" fill="#6b7a6d"/>
<circle cx="96.72" cy="437.88" r="2.3" fill="#6b7a6d"/>
<circle cx="99.64" cy="444.89" r="2.3" fill="#6b7a6d"/>
<circle cx="105.47" cy="454.53" r="2.3" fill="#6b7a6d"/>
<circle cx="108.39" cy="455.99" r="2.3" fill="#6b7a6d"/>
<circle cx="112.77" cy="430.29" r="2.3" fill="#6b7a6d"/>
<circle cx="117.15" cy="459.49" r="2.3" fill="#6b7a6d"/>
<circle cx="121.53" cy="453.07" r="2.3" fill="#6b7a6d"/>
<circle cx="124.45" cy="446.64" r="2.3" fill="#6b7a6d"/>
<circle cx="125.91" cy="459.49" r="2.3" fill="#6b7a6d"/>
<circle cx="127.37" cy="415.11" r="2.3" fill="#6b7a6d"/>
<circle cx="130.29" cy="432.63" r="2.3" fill="#6b7a6d"/>
<circle cx="134.67" cy="442.85" r="2.3" fill="#6b7a6d"/>
<circle cx="137.59" cy="423.87" r="2.3" fill="#6b7a6d"/>
<circle cx="143.43" cy="420.95" r="2.3" fill="#6b7a6d"/>
<circle cx="150.73" cy="413.65" r="2.3" fill="#6b7a6d"/>
<circle cx="152.19" cy="419.49" r="2.3" fill="#6b7a6d"/>
<circle cx="163.87" cy="396.13" r="2.3" fill="#6b7a6d"/>
<circle cx="166.79" cy="396.13" r="2.3" fill="#6b7a6d"/>
<circle cx="172.04" cy="431.17" r="2.3" fill="#6b7a6d"/>
<circle cx="172.63" cy="391.75" r="2.3" fill="#6b7a6d"/>
<circle cx="178.47" cy="387.37" r="2.3" fill="#6b7a6d"/>
<circle cx="184.31" cy="379.49" r="2.3" fill="#6b7a6d"/>
<circle cx="187.23" cy="382.99" r="2.3" fill="#6b7a6d"/>
<circle cx="193.07" cy="369.85" r="2.3" fill="#6b7a6d"/>
<circle cx="194.53" cy="376.57" r="2.3" fill="#6b7a6d"/>
<circle cx="209.12" cy="348.54" r="2.3" fill="#6b7a6d"/>
<circle cx="209.12" cy="364.01" r="2.3" fill="#6b7a6d"/>
<circle cx="212.04" cy="361.97" r="2.3" fill="#6b7a6d"/>
<circle cx="224.31" cy="358.18" r="2.3" fill="#6b7a6d"/>
<circle cx="118.61" cy="439.93" r="2.3" fill="#6b7a6d"/>
<circle cx="122.99" cy="438.47" r="2.3" fill="#6b7a6d"/>
<circle cx="128.83" cy="429.71" r="2.3" fill="#6b7a6d"/>
<circle cx="131.75" cy="435.55" r="2.3" fill="#6b7a6d"/>
<circle cx="79.47" cy="484.39" r="2.3" fill="#6b7a6d"/>
<circle cx="78.09" cy="484.48" r="2.3" fill="#6b7a6d"/>
<circle cx="106.97" cy="456.66" r="2.3" fill="#6b7a6d"/>
<circle cx="128.48" cy="433.77" r="2.3" fill="#6b7a6d"/>
<circle cx="80.80" cy="479.52" r="2.3" fill="#6b7a6d"/>
<circle cx="107.95" cy="452.74" r="2.3" fill="#6b7a6d"/>
<circle cx="123.98" cy="437.67" r="2.3" fill="#6b7a6d"/>
<circle cx="82.22" cy="481.41" r="2.3" fill="#6b7a6d"/>
<circle cx="64.83" cy="497.29" r="2.3" fill="#6b7a6d"/>
<circle cx="88.15" cy="475.91" r="2.3" fill="#6b7a6d"/>
<circle cx="108.46" cy="460.87" r="2.3" fill="#6b7a6d"/>
<circle cx="114.51" cy="444.73" r="2.3" fill="#6b7a6d"/>
<circle cx="81.14" cy="479.24" r="2.3" fill="#6b7a6d"/>
<circle cx="100.61" cy="461.58" r="2.3" fill="#6b7a6d"/>
<circle cx="91.97" cy="469.32" r="2.3" fill="#6b7a6d"/>
<circle cx="117.63" cy="443.34" r="2.3" fill="#6b7a6d"/>
<circle cx="64.89" cy="500.32" r="2.3" fill="#6b7a6d"/>
<circle cx="73.83" cy="488.70" r="2.3" fill="#6b7a6d"/>
<circle cx="77.77" cy="485.42" r="2.3" fill="#6b7a6d"/>
<circle cx="108.18" cy="456.23" r="2.3" fill="#6b7a6d"/>
<circle cx="120.00" cy="440.85" r="2.3" fill="#6b7a6d"/>
<circle cx="84.70" cy="474.39" r="2.3" fill="#6b7a6d"/>
<circle cx="61.77" cy="466.72" r="2.3" fill="#6b7a6d"/>
<circle cx="61.42" cy="477.58" r="2.3" fill="#6b7a6d"/>
<circle cx="57.34" cy="498.25" r="2.3" fill="#6b7a6d"/>
<circle cx="66.09" cy="496.15" r="2.3" fill="#6b7a6d"/>
<circle cx="73.10" cy="483.65" r="2.3" fill="#6b7a6d"/>
<circle cx="72.52" cy="491.24" r="2.3" fill="#6b7a6d"/>
<circle cx="80.11" cy="483.65" r="2.3" fill="#6b7a6d"/>
<circle cx="84.20" cy="481.90" r="2.3" fill="#6b7a6d"/>
<circle cx="88.87" cy="473.72" r="2.3" fill="#6b7a6d"/>
<circle cx="86.53" cy="476.06" r="2.3" fill="#6b7a6d"/>
<circle cx="93.54" cy="466.72" r="2.3" fill="#6b7a6d"/>
<circle cx="95.88" cy="465.55" r="2.3" fill="#6b7a6d"/>
<circle cx="98.21" cy="464.38" r="2.3" fill="#6b7a6d"/>
<circle cx="98.80" cy="451.53" r="2.3" fill="#6b7a6d"/>
<circle cx="100.55" cy="444.29" r="2.3" fill="#6b7a6d"/>
<circle cx="96.46" cy="438.10" r="2.3" fill="#6b7a6d"/>
<circle cx="106.39" cy="455.04" r="2.3" fill="#6b7a6d"/>
<circle cx="109.89" cy="457.37" r="2.3" fill="#6b7a6d"/>
<circle cx="111.06" cy="453.87" r="2.3" fill="#6b7a6d"/>
<circle cx="109.31" cy="460.29" r="2.3" fill="#6b7a6d"/>
<circle cx="113.39" cy="453.87" r="2.3" fill="#6b7a6d"/>
<circle cx="110.47" cy="443.94" r="2.3" fill="#6b7a6d"/>
<circle cx="117.48" cy="440.79" r="2.3" fill="#6b7a6d"/>
<circle cx="116.90" cy="459.71" r="2.3" fill="#6b7a6d"/>
<circle cx="125.07" cy="459.12" r="2.3" fill="#6b7a6d"/>
<circle cx="112.23" cy="430.51" r="2.3" fill="#6b7a6d"/>
<circle cx="121.57" cy="438.69" r="2.3" fill="#6b7a6d"/>
<circle cx="122.74" cy="445.69" r="2.3" fill="#6b7a6d"/>
<circle cx="121.57" cy="453.28" r="2.3" fill="#6b7a6d"/>
<circle cx="127.41" cy="431.68" r="2.3" fill="#6b7a6d"/>
<circle cx="130.91" cy="432.85" r="2.3" fill="#6b7a6d"/>
<circle cx="129.74" cy="446.86" r="2.3" fill="#6b7a6d"/>
<circle cx="132.08" cy="440.44" r="2.3" fill="#6b7a6d"/>
<circle cx="133.83" cy="444.53" r="2.3" fill="#6b7a6d"/>
<circle cx="139.05" cy="435.55" r="2.3" fill="#a8195a"/>
<circle cx="139.93" cy="426.20" r="2.3" fill="#a8195a"/>
<circle cx="150.73" cy="450.15" r="2.3" fill="#a8195a"/>
<circle cx="157.45" cy="448.10" r="2.3" fill="#a8195a"/>
<circle cx="163.28" cy="387.37" r="2.3" fill="#a8195a"/>
<circle cx="178.47" cy="399.93" r="2.3" fill="#a8195a"/>
<circle cx="189.56" cy="396.42" r="2.3" fill="#a8195a"/>
<circle cx="209.12" cy="360.51" r="2.3" fill="#a8195a"/>
<circle cx="114.56" cy="433.08" r="2.3" fill="#a8195a"/>
<circle cx="109.89" cy="435.77" r="2.3" fill="#a8195a"/>
<circle cx="108.14" cy="448.61" r="2.3" fill="#a8195a"/>
<circle cx="96.46" cy="454.45" r="2.3" fill="#a8195a"/>
<circle cx="96.46" cy="459.12" r="2.3" fill="#a8195a"/>
<circle cx="80.11" cy="467.88" r="2.3" fill="#a8195a"/>
<circle cx="79.53" cy="471.97" r="2.3" fill="#a8195a"/>
<circle cx="76.61" cy="478.39" r="2.3" fill="#a8195a"/>
<circle cx="67.85" cy="491.24" r="2.3" fill="#a8195a"/>
<circle cx="94.71" cy="473.14" r="2.3" fill="#a8195a"/>
<circle cx="101.72" cy="468.47" r="2.3" fill="#a8195a"/>
<circle cx="104.64" cy="463.80" r="2.3" fill="#a8195a"/>
<circle cx="99.96" cy="476.29" r="2.3" fill="#a8195a"/>
<circle cx="99.15" cy="479.80" r="2.3" fill="#a8195a"/>
<circle cx="118.07" cy="448.61" r="2.3" fill="#a8195a"/>
<circle cx="127.41" cy="450.95" r="2.3" fill="#a8195a"/>
<circle cx="129.74" cy="463.80" r="2.3" fill="#a8195a"/>
<circle cx="75.44" cy="485.40" r="2.3" fill="#a8195a"/>
</g>
<line x1="56.40" y1="503.80" x2="245.00" y2="321.00" stroke="#000" stroke-width="2" stroke-dasharray="7.2,7.8"/>
<line x1="56.40" y1="318.50" x2="56.40" y2="504.80" stroke="#000" stroke-width="2" />
<line x1="55.40" y1="503.80" x2="247.50" y2="503.80" stroke="#000" stroke-width="2" />
<text x="152.7" y="541.8" font-size="11.7" text-anchor="middle" font-family='"Liberation Sans", sans-serif' fill="#1a1a1a">Actual Ca(OH)<tspan font-size="8.6" dy="2.3">2</tspan><tspan dy="-2.3"> consumption (g/100 g)</tspan></text>
<text transform="translate(27.3,411.2) rotate(-90)" font-size="11.7" text-anchor="middle" font-family='"Liberation Sans", sans-serif' fill="#1a1a1a">Pred. Ca(OH)<tspan font-size="8.4" dy="2.3">2</tspan><tspan dy="-2.3"> consumption (g/100 g)</tspan></text>
<circle cx="75.50" cy="322.70" r="2.2" fill="#6b7a6d"/>
<circle cx="75.50" cy="340.40" r="2.2" fill="#a8195a"/>
<text x="92.00" y="326.80" font-size="11.5" text-anchor="start" font-weight="normal" font-family='"Liberation Sans", sans-serif' fill="#1a1a1a" >Train (R²: 0.96)</text>
<text x="92.00" y="344.50" font-size="11.5" text-anchor="start" font-weight="normal" font-family='"Liberation Sans", sans-serif' fill="#1a1a1a" >Test (R²: 0.85)</text>
<text x="49.30" y="797.50" font-size="11.5" text-anchor="middle" font-weight="normal" font-family='"Liberation Sans", sans-serif' fill="#1a1a1a" >0</text>
<text x="46.30" y="786.30" font-size="11.5" text-anchor="end" font-weight="normal" font-family='"Liberation Sans", sans-serif' fill="#1a1a1a" >0</text>
<text x="82.83" y="797.50" font-size="11.5" text-anchor="middle" font-weight="normal" font-family='"Liberation Sans", sans-serif' fill="#1a1a1a" >5</text>
<text x="46.30" y="755.43" font-size="11.5" text-anchor="end" font-weight="normal" font-family='"Liberation Sans", sans-serif' fill="#1a1a1a" >5</text>
<text x="116.37" y="797.50" font-size="11.5" text-anchor="middle" font-weight="normal" font-family='"Liberation Sans", sans-serif' fill="#1a1a1a" >10</text>
<text x="46.30" y="724.57" font-size="11.5" text-anchor="end" font-weight="normal" font-family='"Liberation Sans", sans-serif' fill="#1a1a1a" >10</text>
<text x="149.90" y="797.50" font-size="11.5" text-anchor="middle" font-weight="normal" font-family='"Liberation Sans", sans-serif' fill="#1a1a1a" >15</text>
<text x="46.30" y="693.70" font-size="11.5" text-anchor="end" font-weight="normal" font-family='"Liberation Sans", sans-serif' fill="#1a1a1a" >15</text>
<text x="183.43" y="797.50" font-size="11.5" text-anchor="middle" font-weight="normal" font-family='"Liberation Sans", sans-serif' fill="#1a1a1a" >20</text>
<text x="46.30" y="662.83" font-size="11.5" text-anchor="end" font-weight="normal" font-family='"Liberation Sans", sans-serif' fill="#1a1a1a" >20</text>
<text x="216.97" y="797.50" font-size="11.5" text-anchor="middle" font-weight="normal" font-family='"Liberation Sans", sans-serif' fill="#1a1a1a" >25</text>
<text x="46.30" y="631.97" font-size="11.5" text-anchor="end" font-weight="normal" font-family='"Liberation Sans", sans-serif' fill="#1a1a1a" >25</text>
<text x="250.50" y="797.50" font-size="11.5" text-anchor="middle" font-weight="normal" font-family='"Liberation Sans", sans-serif' fill="#1a1a1a" >30</text>
<text x="46.30" y="601.10" font-size="11.5" text-anchor="end" font-weight="normal" font-family='"Liberation Sans", sans-serif' fill="#1a1a1a" >30</text>
<line x1="49.30" y1="781.20" x2="249.80" y2="603.80" stroke="#6b7a6d" stroke-width="1.7" />
<line x1="50.50" y1="767.80" x2="235.00" y2="639.00" stroke="#a8195a" stroke-width="1.7" />
<clipPath id="clip3"><rect x="49.3" y="591.0" width="207.2" height="191.20000000000005"/></clipPath>
<g clip-path="url(#clip3)">
<circle cx="55.73" cy="743.28" r="2.3" fill="#6b7a6d"/>
<circle cx="238.13" cy="615.14" r="2.3" fill="#6b7a6d"/>
<circle cx="210.54" cy="641.50" r="2.3" fill="#6b7a6d"/>
<circle cx="190.62" cy="649.78" r="2.3" fill="#6b7a6d"/>
<circle cx="179.89" cy="658.98" r="2.3" fill="#6b7a6d"/>
<circle cx="190.62" cy="679.52" r="2.3" fill="#6b7a6d"/>
<circle cx="234.45" cy="648.25" r="2.3" fill="#6b7a6d"/>
<circle cx="176.82" cy="670.32" r="2.3" fill="#6b7a6d"/>
<circle cx="173.76" cy="672.16" r="2.3" fill="#6b7a6d"/>
<circle cx="170.69" cy="671.24" r="2.3" fill="#6b7a6d"/>
<circle cx="166.09" cy="671.24" r="2.3" fill="#6b7a6d"/>
<circle cx="161.49" cy="677.37" r="2.3" fill="#6b7a6d"/>
<circle cx="156.89" cy="688.10" r="2.3" fill="#6b7a6d"/>
<circle cx="147.70" cy="686.57" r="2.3" fill="#6b7a6d"/>
<circle cx="146.16" cy="691.16" r="2.3" fill="#6b7a6d"/>
<circle cx="133.90" cy="702.81" r="2.3" fill="#6b7a6d"/>
<circle cx="129.30" cy="706.49" r="2.3" fill="#6b7a6d"/>
<circle cx="121.64" cy="713.24" r="2.3" fill="#6b7a6d"/>
<circle cx="118.57" cy="715.69" r="2.3" fill="#6b7a6d"/>
<circle cx="109.38" cy="723.35" r="2.3" fill="#6b7a6d"/>
<circle cx="101.71" cy="731.63" r="2.3" fill="#6b7a6d"/>
<circle cx="101.71" cy="743.28" r="2.3" fill="#6b7a6d"/>
<circle cx="94.05" cy="740.83" r="2.3" fill="#6b7a6d"/>
<circle cx="84.85" cy="741.75" r="2.3" fill="#6b7a6d"/>
<circle cx="81.79" cy="743.28" r="2.3" fill="#6b7a6d"/>
<circle cx="77.19" cy="749.41" r="2.3" fill="#6b7a6d"/>
<circle cx="71.06" cy="761.67" r="2.3" fill="#6b7a6d"/>
<circle cx="63.39" cy="767.81" r="2.3" fill="#6b7a6d"/>
<circle cx="60.33" cy="769.34" r="2.3" fill="#6b7a6d"/>
<circle cx="54.20" cy="773.94" r="2.3" fill="#6b7a6d"/>
<circle cx="51.13" cy="777.00" r="2.3" fill="#6b7a6d"/>
<circle cx="49.60" cy="775.47" r="2.3" fill="#6b7a6d"/>
<circle cx="57.56" cy="771.29" r="2.3" fill="#6b7a6d"/>
<circle cx="143.43" cy="698.32" r="2.3" fill="#6b7a6d"/>
<circle cx="52.13" cy="777.31" r="2.3" fill="#6b7a6d"/>
<circle cx="111.22" cy="728.59" r="2.3" fill="#6b7a6d"/>
<circle cx="146.83" cy="694.12" r="2.3" fill="#6b7a6d"/>
<circle cx="64.87" cy="767.35" r="2.3" fill="#6b7a6d"/>
<circle cx="81.22" cy="750.65" r="2.3" fill="#6b7a6d"/>
<circle cx="147.84" cy="690.95" r="2.3" fill="#6b7a6d"/>
<circle cx="140.82" cy="695.76" r="2.3" fill="#6b7a6d"/>
<circle cx="85.56" cy="752.04" r="2.3" fill="#6b7a6d"/>
<circle cx="122.62" cy="718.71" r="2.3" fill="#6b7a6d"/>
<circle cx="118.69" cy="716.63" r="2.3" fill="#6b7a6d"/>
<circle cx="85.47" cy="752.92" r="2.3" fill="#6b7a6d"/>
<circle cx="79.25" cy="759.61" r="2.3" fill="#6b7a6d"/>
<circle cx="164.63" cy="674.13" r="2.3" fill="#6b7a6d"/>
<circle cx="81.72" cy="752.18" r="2.3" fill="#6b7a6d"/>
<circle cx="147.10" cy="688.33" r="2.3" fill="#6b7a6d"/>
<circle cx="93.40" cy="743.00" r="2.3" fill="#6b7a6d"/>
<circle cx="164.65" cy="676.89" r="2.3" fill="#6b7a6d"/>
<circle cx="168.18" cy="671.17" r="2.3" fill="#6b7a6d"/>
<circle cx="132.53" cy="706.88" r="2.3" fill="#6b7a6d"/>
<circle cx="177.38" cy="667.73" r="2.3" fill="#6b7a6d"/>
<circle cx="111.77" cy="722.66" r="2.3" fill="#6b7a6d"/>
<circle cx="161.73" cy="681.94" r="2.3" fill="#6b7a6d"/>
<circle cx="107.61" cy="729.04" r="2.3" fill="#6b7a6d"/>
<circle cx="90.94" cy="747.04" r="2.3" fill="#6b7a6d"/>
<circle cx="78.61" cy="755.94" r="2.3" fill="#6b7a6d"/>
<circle cx="168.59" cy="673.09" r="2.3" fill="#6b7a6d"/>
<circle cx="69.93" cy="762.05" r="2.3" fill="#6b7a6d"/>
<circle cx="170.93" cy="670.04" r="2.3" fill="#6b7a6d"/>
<circle cx="95.72" cy="739.10" r="2.3" fill="#6b7a6d"/>
<circle cx="56.68" cy="774.95" r="2.3" fill="#6b7a6d"/>
<circle cx="140.50" cy="700.80" r="2.3" fill="#6b7a6d"/>
<circle cx="146.19" cy="695.86" r="2.3" fill="#6b7a6d"/>
<circle cx="59.78" cy="774.53" r="2.3" fill="#6b7a6d"/>
<circle cx="156.59" cy="684.71" r="2.3" fill="#6b7a6d"/>
<circle cx="156.85" cy="682.50" r="2.3" fill="#6b7a6d"/>
<circle cx="163.06" cy="678.07" r="2.3" fill="#6b7a6d"/>
<circle cx="169.06" cy="670.86" r="2.3" fill="#6b7a6d"/>
<circle cx="77.80" cy="756.37" r="2.3" fill="#6b7a6d"/>
<circle cx="65.73" cy="762.40" r="2.3" fill="#6b7a6d"/>
<circle cx="155.87" cy="683.07" r="2.3" fill="#6b7a6d"/>
<circle cx="132.97" cy="703.60" r="2.3" fill="#6b7a6d"/>
<circle cx="88.32" cy="749.40" r="2.3" fill="#6b7a6d"/>
<circle cx="64.17" cy="765.12" r="2.3" fill="#6b7a6d"/>
<circle cx="77.71" cy="753.65" r="2.3" fill="#6b7a6d"/>
<circle cx="92.41" cy="742.97" r="2.3" fill="#6b7a6d"/>
<circle cx="84.37" cy="749.69" r="2.3" fill="#6b7a6d"/>
<circle cx="87.70" cy="747.36" r="2.3" fill="#6b7a6d"/>
<circle cx="92.62" cy="744.63" r="2.3" fill="#6b7a6d"/>
<circle cx="175.44" cy="670.91" r="2.3" fill="#6b7a6d"/>
<circle cx="130.93" cy="707.18" r="2.3" fill="#6b7a6d"/>
<circle cx="55.30" cy="778.93" r="2.3" fill="#6b7a6d"/>
<circle cx="150.85" cy="687.35" r="2.3" fill="#6b7a6d"/>
<circle cx="95.97" cy="740.11" r="2.3" fill="#6b7a6d"/>
<circle cx="79.20" cy="757.62" r="2.3" fill="#6b7a6d"/>
<circle cx="162.34" cy="674.30" r="2.3" fill="#6b7a6d"/>
<circle cx="73.25" cy="757.68" r="2.3" fill="#6b7a6d"/>
<circle cx="51.48" cy="778.95" r="2.3" fill="#6b7a6d"/>
<circle cx="177.23" cy="660.45" r="2.3" fill="#6b7a6d"/>
<circle cx="50.90" cy="783.95" r="2.3" fill="#6b7a6d"/>
<circle cx="97.67" cy="737.49" r="2.3" fill="#6b7a6d"/>
<circle cx="61.53" cy="773.51" r="2.3" fill="#6b7a6d"/>
<circle cx="99.74" cy="735.69" r="2.3" fill="#6b7a6d"/>
<circle cx="66.02" cy="764.68" r="2.3" fill="#6b7a6d"/>
<circle cx="63.31" cy="770.08" r="2.3" fill="#6b7a6d"/>
<circle cx="91.92" cy="744.31" r="2.3" fill="#6b7a6d"/>
<circle cx="88.21" cy="746.37" r="2.3" fill="#6b7a6d"/>
<circle cx="55.41" cy="775.56" r="2.3" fill="#6b7a6d"/>
<circle cx="97.09" cy="742.39" r="2.3" fill="#6b7a6d"/>
<circle cx="87.70" cy="748.59" r="2.3" fill="#6b7a6d"/>
<circle cx="73.93" cy="757.31" r="2.3" fill="#6b7a6d"/>
<circle cx="103.19" cy="727.61" r="2.3" fill="#6b7a6d"/>
<circle cx="52.13" cy="776.60" r="2.3" fill="#6b7a6d"/>
<circle cx="62.81" cy="770.26" r="2.3" fill="#6b7a6d"/>
<circle cx="80.22" cy="747.78" r="2.3" fill="#6b7a6d"/>
<circle cx="73.03" cy="758.85" r="2.3" fill="#6b7a6d"/>
<circle cx="77.84" cy="757.28" r="2.3" fill="#6b7a6d"/>
<circle cx="82.01" cy="751.96" r="2.3" fill="#6b7a6d"/>
<circle cx="88.79" cy="750.50" r="2.3" fill="#6b7a6d"/>
<circle cx="71.21" cy="762.78" r="2.3" fill="#6b7a6d"/>
<circle cx="100.40" cy="733.73" r="2.3" fill="#6b7a6d"/>
<circle cx="89.72" cy="745.08" r="2.3" fill="#6b7a6d"/>
<circle cx="76.54" cy="758.82" r="2.3" fill="#6b7a6d"/>
<circle cx="96.29" cy="740.22" r="2.3" fill="#6b7a6d"/>
<circle cx="77.91" cy="756.55" r="2.3" fill="#6b7a6d"/>
<circle cx="102.88" cy="732.74" r="2.3" fill="#6b7a6d"/>
<circle cx="68.44" cy="762.78" r="2.3" fill="#6b7a6d"/>
<circle cx="92.14" cy="741.87" r="2.3" fill="#6b7a6d"/>
<circle cx="59.85" cy="773.83" r="2.3" fill="#6b7a6d"/>
<circle cx="65.25" cy="769.08" r="2.3" fill="#6b7a6d"/>
<circle cx="60.14" cy="769.23" r="2.3" fill="#6b7a6d"/>
<circle cx="70.00" cy="760.33" r="2.3" fill="#6b7a6d"/>
<circle cx="93.65" cy="734.37" r="2.3" fill="#6b7a6d"/>
<circle cx="56.65" cy="774.18" r="2.3" fill="#6b7a6d"/>
<circle cx="73.32" cy="760.39" r="2.3" fill="#6b7a6d"/>
<circle cx="108.71" cy="726.26" r="2.3" fill="#6b7a6d"/>
<circle cx="76.31" cy="761.68" r="2.3" fill="#6b7a6d"/>
<circle cx="62.22" cy="771.16" r="2.3" fill="#6b7a6d"/>
<circle cx="62.83" cy="770.76" r="2.3" fill="#6b7a6d"/>
<circle cx="73.56" cy="757.13" r="2.3" fill="#6b7a6d"/>
<circle cx="97.33" cy="737.40" r="2.3" fill="#6b7a6d"/>
<circle cx="91.57" cy="747.22" r="2.3" fill="#6b7a6d"/>
<circle cx="77.98" cy="755.81" r="2.3" fill="#6b7a6d"/>
<circle cx="59.01" cy="775.51" r="2.3" fill="#6b7a6d"/>
<circle cx="94.37" cy="742.43" r="2.3" fill="#6b7a6d"/>
<circle cx="104.23" cy="734.92" r="2.3" fill="#6b7a6d"/>
<circle cx="94.85" cy="738.73" r="2.3" fill="#6b7a6d"/>
<circle cx="75.50" cy="757.49" r="2.3" fill="#6b7a6d"/>
<circle cx="102.58" cy="728.75" r="2.3" fill="#6b7a6d"/>
<circle cx="146.16" cy="686.57" r="2.3" fill="#6b7a6d"/>
<circle cx="150.76" cy="691.16" r="2.3" fill="#6b7a6d"/>
<circle cx="147.70" cy="681.97" r="2.3" fill="#6b7a6d"/>
<circle cx="155.36" cy="688.10" r="2.3" fill="#6b7a6d"/>
<circle cx="159.96" cy="681.97" r="2.3" fill="#6b7a6d"/>
<circle cx="163.03" cy="675.84" r="2.3" fill="#6b7a6d"/>
<circle cx="164.56" cy="671.24" r="2.3" fill="#6b7a6d"/>
<circle cx="169.16" cy="670.32" r="2.3" fill="#6b7a6d"/>
<circle cx="172.22" cy="672.77" r="2.3" fill="#6b7a6d"/>
<circle cx="182.95" cy="657.44" r="2.3" fill="#6b7a6d"/>
<circle cx="186.02" cy="666.64" r="2.3" fill="#6b7a6d"/>
<circle cx="136.97" cy="700.36" r="2.3" fill="#6b7a6d"/>
<circle cx="130.84" cy="704.04" r="2.3" fill="#6b7a6d"/>
<circle cx="123.17" cy="711.09" r="2.3" fill="#6b7a6d"/>
<circle cx="113.98" cy="718.76" r="2.3" fill="#6b7a6d"/>
<circle cx="106.31" cy="727.95" r="2.3" fill="#6b7a6d"/>
<circle cx="97.12" cy="734.08" r="2.3" fill="#6b7a6d"/>
<circle cx="90.98" cy="743.28" r="2.3" fill="#6b7a6d"/>
<circle cx="80.25" cy="746.35" r="2.3" fill="#6b7a6d"/>
<circle cx="74.12" cy="755.54" r="2.3" fill="#6b7a6d"/>
<circle cx="67.99" cy="764.74" r="2.3" fill="#6b7a6d"/>
<circle cx="57.26" cy="772.40" r="2.3" fill="#6b7a6d"/>
<circle cx="63.39" cy="773.94" r="2.3" fill="#6b7a6d"/>
<circle cx="51.13" cy="755.54" r="2.3" fill="#a8195a"/>
<circle cx="64.93" cy="737.15" r="2.3" fill="#a8195a"/>
<circle cx="63.39" cy="750.94" r="2.3" fill="#a8195a"/>
<circle cx="61.86" cy="758.00" r="2.3" fill="#a8195a"/>
<circle cx="59.71" cy="770.87" r="2.3" fill="#a8195a"/>
<circle cx="74.12" cy="752.48" r="2.3" fill="#a8195a"/>
<circle cx="75.66" cy="761.67" r="2.3" fill="#a8195a"/>
<circle cx="84.85" cy="755.54" r="2.3" fill="#a8195a"/>
<circle cx="84.85" cy="758.00" r="2.3" fill="#a8195a"/>
<circle cx="97.12" cy="724.89" r="2.3" fill="#a8195a"/>
<circle cx="94.05" cy="737.15" r="2.3" fill="#a8195a"/>
<circle cx="100.18" cy="741.75" r="2.3" fill="#a8195a"/>
<circle cx="103.25" cy="731.02" r="2.3" fill="#a8195a"/>
<circle cx="115.51" cy="723.35" r="2.3" fill="#a8195a"/>
<circle cx="124.71" cy="715.08" r="2.3" fill="#a8195a"/>
<circle cx="142.49" cy="700.97" r="2.3" fill="#a8195a"/>
<circle cx="158.43" cy="683.50" r="2.3" fill="#a8195a"/>
<circle cx="173.76" cy="659.90" r="2.3" fill="#a8195a"/>
<circle cx="173.76" cy="680.44" r="2.3" fill="#a8195a"/>
<circle cx="173.14" cy="681.97" r="2.3" fill="#a8195a"/>
<circle cx="235.07" cy="658.98" r="2.3" fill="#a8195a"/>
</g>
<line x1="49.30" y1="782.20" x2="250.40" y2="596.70" stroke="#000" stroke-width="2" stroke-dasharray="7.2,7.8"/>
<line x1="49.30" y1="596.50" x2="49.30" y2="783.20" stroke="#000" stroke-width="2" />
<line x1="48.30" y1="782.20" x2="250.50" y2="782.20" stroke="#000" stroke-width="2" />
<text x="151.5" y="820.5" font-size="11.7" text-anchor="middle" font-family='"Liberation Sans", sans-serif' fill="#1a1a1a">Actual bound water (g/100 g)</text>
<text transform="translate(27.3,689) rotate(-90)" font-size="11.6" text-anchor="middle" font-family='"Liberation Sans", sans-serif' fill="#1a1a1a">Predicted bound water (g/100 g)</text>
<circle cx="69.00" cy="601.00" r="2.2" fill="#6b7a6d"/>
<circle cx="69.00" cy="619.00" r="2.2" fill="#a8195a"/>
<text x="86.00" y="605.10" font-size="11.5" text-anchor="start" font-weight="normal" font-family='"Liberation Sans", sans-serif' fill="#1a1a1a" >Train (R²: 0.98)</text>
<text x="86.00" y="623.10" font-size="11.5" text-anchor="start" font-weight="normal" font-family='"Liberation Sans", sans-serif' fill="#1a1a1a" >Test (R²: 0.89)</text>
<line x1="386" y1="44.30" x2="482.8" y2="44.30" stroke="#e8e8e8" stroke-width="1.1" stroke-dasharray="1,1"/>
<line x1="489" y1="44.30" x2="681" y2="44.30" stroke="#e8e8e8" stroke-width="1.1" stroke-dasharray="1,1"/>
<line x1="386" y1="63.83" x2="482.8" y2="63.83" stroke="#e8e8e8" stroke-width="1.1" stroke-dasharray="1,1"/>
<line x1="489" y1="63.83" x2="681" y2="63.83" stroke="#e8e8e8" stroke-width="1.1" stroke-dasharray="1,1"/>
<line x1="386" y1="83.36" x2="482.8" y2="83.36" stroke="#e8e8e8" stroke-width="1.1" stroke-dasharray="1,1"/>
<line x1="489" y1="83.36" x2="681" y2="83.36" stroke="#e8e8e8" stroke-width="1.1" stroke-dasharray="1,1"/>
<line x1="386" y1="102.89" x2="482.8" y2="102.89" stroke="#e8e8e8" stroke-width="1.1" stroke-dasharray="1,1"/>
<line x1="489" y1="102.89" x2="681" y2="102.89" stroke="#e8e8e8" stroke-width="1.1" stroke-dasharray="1,1"/>
<line x1="386" y1="122.42" x2="482.8" y2="122.42" stroke="#e8e8e8" stroke-width="1.1" stroke-dasharray="1,1"/>
<line x1="489" y1="122.42" x2="681" y2="122.42" stroke="#e8e8e8" stroke-width="1.1" stroke-dasharray="1,1"/>
<line x1="386" y1="141.95" x2="482.8" y2="141.95" stroke="#e8e8e8" stroke-width="1.1" stroke-dasharray="1,1"/>
<line x1="489" y1="141.95" x2="681" y2="141.95" stroke="#e8e8e8" stroke-width="1.1" stroke-dasharray="1,1"/>
<line x1="386" y1="161.48" x2="482.8" y2="161.48" stroke="#e8e8e8" stroke-width="1.1" stroke-dasharray="1,1"/>
<line x1="489" y1="161.48" x2="681" y2="161.48" stroke="#e8e8e8" stroke-width="1.1" stroke-dasharray="1,1"/>
<line x1="386" y1="181.01" x2="482.8" y2="181.01" stroke="#e8e8e8" stroke-width="1.1" stroke-dasharray="1,1"/>
<line x1="489" y1="181.01" x2="681" y2="181.01" stroke="#e8e8e8" stroke-width="1.1" stroke-dasharray="1,1"/>
<line x1="386" y1="200.54" x2="482.8" y2="200.54" stroke="#e8e8e8" stroke-width="1.1" stroke-dasharray="1,1"/>
<line x1="489" y1="200.54" x2="681" y2="200.54" stroke="#e8e8e8" stroke-width="1.1" stroke-dasharray="1,1"/>
<line x1="386" y1="220.07" x2="482.8" y2="220.07" stroke="#e8e8e8" stroke-width="1.1" stroke-dasharray="1,1"/>
<line x1="489" y1="220.07" x2="681" y2="220.07" stroke="#e8e8e8" stroke-width="1.1" stroke-dasharray="1,1"/>
<rect x="385" y="37.10" width="96.20" height="15.2" fill="#ee9b58"/>
<text x="381.2" y="48.80" font-size="11" text-anchor="end" font-family='"Liberation Sans", sans-serif' fill="#1a1a1a">Age</text>
<rect x="385" y="56.63" width="39.00" height="15.2" fill="#6b7a6d"/>
<text x="381.2" y="68.33" font-size="11" text-anchor="end" font-family='"Liberation Sans", sans-serif' fill="#1a1a1a">Al<tspan font-size="7.92" dy="1.8">2</tspan><tspan dy="-1.8">​</tspan>O<tspan font-size="7.92" dy="1.8">3</tspan><tspan dy="-1.8">​</tspan></text>
<rect x="385" y="76.16" width="23.00" height="15.2" fill="#a8195a"/>
<text x="381.2" y="87.86" font-size="11" text-anchor="end" font-family='"Liberation Sans", sans-serif' fill="#1a1a1a">CaCO<tspan font-size="7.92" dy="1.8">3</tspan><tspan dy="-1.8">​</tspan></text>
<rect x="385" y="95.69" width="17.70" height="15.2" fill="#6b7a6d"/>
<text x="381.2" y="107.39" font-size="11" text-anchor="end" font-family='"Liberation Sans", sans-serif' fill="#1a1a1a">Fe<tspan font-size="7.92" dy="1.8">2</tspan><tspan dy="-1.8">​</tspan>O<tspan font-size="7.92" dy="1.8">3</tspan><tspan dy="-1.8">​</tspan></text>
<rect x="385" y="115.22" width="15.30" height="15.2" fill="#b9e2f4"/>
<text x="381.2" y="126.92" font-size="11" text-anchor="end" font-family='"Liberation Sans", sans-serif' fill="#1a1a1a">Specific gravity</text>
<rect x="385" y="134.75" width="13.50" height="15.2" fill="#6b7a6d"/>
<text x="381.2" y="146.45" font-size="11" text-anchor="end" font-family='"Liberation Sans", sans-serif' fill="#1a1a1a">SiO<tspan font-size="7.92" dy="1.8">2</tspan><tspan dy="-1.8">​</tspan></text>
<rect x="385" y="154.28" width="11.80" height="15.2" fill="#6b7a6d"/>
<text x="381.2" y="165.98" font-size="11" text-anchor="end" font-family='"Liberation Sans", sans-serif' fill="#1a1a1a">CaO</text>
<rect x="385" y="173.81" width="8.50" height="15.2" fill="#6b7a6d"/>
<text x="381.2" y="185.51" font-size="11" text-anchor="end" font-family='"Liberation Sans", sans-serif' fill="#1a1a1a">TiO<tspan font-size="7.92" dy="1.8">2</tspan><tspan dy="-1.8">​</tspan></text>
<rect x="385" y="193.34" width="8.00" height="15.2" fill="#6b7a6d"/>
<text x="381.2" y="205.04" font-size="11" text-anchor="end" font-family='"Liberation Sans", sans-serif' fill="#1a1a1a">MgO</text>
<rect x="385" y="212.87" width="8.00" height="15.2" fill="#b9e2f4"/>
<text x="381.2" y="224.57" font-size="11" text-anchor="end" font-family='"Liberation Sans", sans-serif' fill="#1a1a1a">Amorphous content</text>
<line x1="384.20" y1="35.00" x2="384.20" y2="232.00" stroke="#000" stroke-width="2" />
<line x1="383.20" y1="231.00" x2="482.80" y2="231.00" stroke="#000" stroke-width="2.2" />
<line x1="386" y1="312.40" x2="482.8" y2="312.40" stroke="#e8e8e8" stroke-width="1.1" stroke-dasharray="1,1"/>
<line x1="489" y1="312.40" x2="681" y2="312.40" stroke="#e8e8e8" stroke-width="1.1" stroke-dasharray="1,1"/>
<line x1="386" y1="332.68" x2="482.8" y2="332.68" stroke="#e8e8e8" stroke-width="1.1" stroke-dasharray="1,1"/>
<line x1="489" y1="332.68" x2="681" y2="332.68" stroke="#e8e8e8" stroke-width="1.1" stroke-dasharray="1,1"/>
<line x1="386" y1="352.96" x2="482.8" y2="352.96" stroke="#e8e8e8" stroke-width="1.1" stroke-dasharray="1,1"/>
<line x1="489" y1="352.96" x2="681" y2="352.96" stroke="#e8e8e8" stroke-width="1.1" stroke-dasharray="1,1"/>
<line x1="386" y1="373.24" x2="482.8" y2="373.24" stroke="#e8e8e8" stroke-width="1.1" stroke-dasharray="1,1"/>
<line x1="489" y1="373.24" x2="681" y2="373.24" stroke="#e8e8e8" stroke-width="1.1" stroke-dasharray="1,1"/>
<line x1="386" y1="393.52" x2="482.8" y2="393.52" stroke="#e8e8e8" stroke-width="1.1" stroke-dasharray="1,1"/>
<line x1="489" y1="393.52" x2="681" y2="393.52" stroke="#e8e8e8" stroke-width="1.1" stroke-dasharray="1,1"/>
<line x1="386" y1="413.80" x2="482.8" y2="413.80" stroke="#e8e8e8" stroke-width="1.1" stroke-dasharray="1,1"/>
<line x1="489" y1="413.80" x2="681" y2="413.80" stroke="#e8e8e8" stroke-width="1.1" stroke-dasharray="1,1"/>
<line x1="386" y1="434.08" x2="482.8" y2="434.08" stroke="#e8e8e8" stroke-width="1.1" stroke-dasharray="1,1"/>
<line x1="489" y1="434.08" x2="681" y2="434.08" stroke="#e8e8e8" stroke-width="1.1" stroke-dasharray="1,1"/>
<line x1="386" y1="454.36" x2="482.8" y2="454.36" stroke="#e8e8e8" stroke-width="1.1" stroke-dasharray="1,1"/>
<line x1="489" y1="454.36" x2="681" y2="454.36" stroke="#e8e8e8" stroke-width="1.1" stroke-dasharray="1,1"/>
<line x1="386" y1="474.64" x2="482.8" y2="474.64" stroke="#e8e8e8" stroke-width="1.1" stroke-dasharray="1,1"/>
<line x1="489" y1="474.64" x2="681" y2="474.64" stroke="#e8e8e8" stroke-width="1.1" stroke-dasharray="1,1"/>
<line x1="386" y1="494.92" x2="482.8" y2="494.92" stroke="#e8e8e8" stroke-width="1.1" stroke-dasharray="1,1"/>
<line x1="489" y1="494.92" x2="681" y2="494.92" stroke="#e8e8e8" stroke-width="1.1" stroke-dasharray="1,1"/>
<rect x="385" y="303.90" width="96.40" height="15.2" fill="#6b7a6d"/>
<text x="381.2" y="315.60" font-size="11" text-anchor="end" font-family='"Liberation Sans", sans-serif' fill="#1a1a1a">Al<tspan font-size="7.92" dy="1.8">2</tspan><tspan dy="-1.8">​</tspan>O<tspan font-size="7.92" dy="1.8">3</tspan><tspan dy="-1.8">​</tspan></text>
<rect x="385" y="324.18" width="38.60" height="15.2" fill="#b9e2f4"/>
<text x="381.2" y="335.88" font-size="11" text-anchor="end" font-family='"Liberation Sans", sans-serif' fill="#1a1a1a">Specific gravity</text>
<rect x="385" y="344.46" width="17.00" height="15.2" fill="#6b7a6d"/>
<text x="381.2" y="356.16" font-size="11" text-anchor="end" font-family='"Liberation Sans", sans-serif' fill="#1a1a1a">Fe<tspan font-size="7.92" dy="1.8">2</tspan><tspan dy="-1.8">​</tspan>O<tspan font-size="7.92" dy="1.8">3</tspan><tspan dy="-1.8">​</tspan></text>
<rect x="385" y="364.74" width="13.80" height="15.2" fill="#ee9b58"/>
<text x="381.2" y="376.44" font-size="11" text-anchor="end" font-family='"Liberation Sans", sans-serif' fill="#1a1a1a">Age</text>
<rect x="385" y="385.02" width="11.00" height="15.2" fill="#6b7a6d"/>
<text x="381.2" y="396.72" font-size="11" text-anchor="end" font-family='"Liberation Sans", sans-serif' fill="#1a1a1a">CaO</text>
<rect x="385" y="405.30" width="8.80" height="15.2" fill="#6b7a6d"/>
<text x="381.2" y="417.00" font-size="11" text-anchor="end" font-family='"Liberation Sans", sans-serif' fill="#1a1a1a">SO<tspan font-size="7.92" dy="1.8">3</tspan><tspan dy="-1.8">​</tspan></text>
<rect x="385" y="425.58" width="7.80" height="15.2" fill="#6b7a6d"/>
<text x="381.2" y="437.28" font-size="11" text-anchor="end" font-family='"Liberation Sans", sans-serif' fill="#1a1a1a">MgO</text>
<rect x="385" y="445.86" width="6.70" height="15.2" fill="#6b7a6d"/>
<text x="381.2" y="457.56" font-size="11" text-anchor="end" font-family='"Liberation Sans", sans-serif' fill="#1a1a1a">Loss on ignition</text>
<rect x="385" y="466.14" width="6.00" height="15.2" fill="#6b7a6d"/>
<text x="381.2" y="477.84" font-size="11" text-anchor="end" font-family='"Liberation Sans", sans-serif' fill="#1a1a1a">SiO<tspan font-size="7.92" dy="1.8">2</tspan><tspan dy="-1.8">​</tspan></text>
<rect x="385" y="486.42" width="5.00" height="15.2" fill="#b9e2f4"/>
<text x="381.2" y="498.12" font-size="11" text-anchor="end" font-family='"Liberation Sans", sans-serif' fill="#1a1a1a">Amorphous content</text>
<line x1="384.20" y1="301.50" x2="384.20" y2="506.00" stroke="#000" stroke-width="2" />
<line x1="383.20" y1="505.00" x2="482.80" y2="505.00" stroke="#000" stroke-width="2.2" />
<line x1="386" y1="588.40" x2="482.8" y2="588.40" stroke="#e8e8e8" stroke-width="1.1" stroke-dasharray="1,1"/>
<line x1="489" y1="588.40" x2="681" y2="588.40" stroke="#e8e8e8" stroke-width="1.1" stroke-dasharray="1,1"/>
<line x1="386" y1="608.73" x2="482.8" y2="608.73" stroke="#e8e8e8" stroke-width="1.1" stroke-dasharray="1,1"/>
<line x1="489" y1="608.73" x2="681" y2="608.73" stroke="#e8e8e8" stroke-width="1.1" stroke-dasharray="1,1"/>
<line x1="386" y1="629.06" x2="482.8" y2="629.06" stroke="#e8e8e8" stroke-width="1.1" stroke-dasharray="1,1"/>
<line x1="489" y1="629.06" x2="681" y2="629.06" stroke="#e8e8e8" stroke-width="1.1" stroke-dasharray="1,1"/>
<line x1="386" y1="649.39" x2="482.8" y2="649.39" stroke="#e8e8e8" stroke-width="1.1" stroke-dasharray="1,1"/>
<line x1="489" y1="649.39" x2="681" y2="649.39" stroke="#e8e8e8" stroke-width="1.1" stroke-dasharray="1,1"/>
<line x1="386" y1="669.72" x2="482.8" y2="669.72" stroke="#e8e8e8" stroke-width="1.1" stroke-dasharray="1,1"/>
<line x1="489" y1="669.72" x2="681" y2="669.72" stroke="#e8e8e8" stroke-width="1.1" stroke-dasharray="1,1"/>
<line x1="386" y1="690.05" x2="482.8" y2="690.05" stroke="#e8e8e8" stroke-width="1.1" stroke-dasharray="1,1"/>
<line x1="489" y1="690.05" x2="681" y2="690.05" stroke="#e8e8e8" stroke-width="1.1" stroke-dasharray="1,1"/>
<line x1="386" y1="710.38" x2="482.8" y2="710.38" stroke="#e8e8e8" stroke-width="1.1" stroke-dasharray="1,1"/>
<line x1="489" y1="710.38" x2="681" y2="710.38" stroke="#e8e8e8" stroke-width="1.1" stroke-dasharray="1,1"/>
<line x1="386" y1="730.71" x2="482.8" y2="730.71" stroke="#e8e8e8" stroke-width="1.1" stroke-dasharray="1,1"/>
<line x1="489" y1="730.71" x2="681" y2="730.71" stroke="#e8e8e8" stroke-width="1.1" stroke-dasharray="1,1"/>
<line x1="386" y1="751.04" x2="482.8" y2="751.04" stroke="#e8e8e8" stroke-width="1.1" stroke-dasharray="1,1"/>
<line x1="489" y1="751.04" x2="681" y2="751.04" stroke="#e8e8e8" stroke-width="1.1" stroke-dasharray="1,1"/>
<line x1="386" y1="771.37" x2="482.8" y2="771.37" stroke="#e8e8e8" stroke-width="1.1" stroke-dasharray="1,1"/>
<line x1="489" y1="771.37" x2="681" y2="771.37" stroke="#e8e8e8" stroke-width="1.1" stroke-dasharray="1,1"/>
<rect x="385" y="581.40" width="96.00" height="15.2" fill="#ee9b58"/>
<text x="381.2" y="593.10" font-size="11" text-anchor="end" font-family='"Liberation Sans", sans-serif' fill="#1a1a1a">Age</text>
<rect x="385" y="601.73" width="75.80" height="15.2" fill="#6b7a6d"/>
<text x="381.2" y="613.43" font-size="11" text-anchor="end" font-family='"Liberation Sans", sans-serif' fill="#1a1a1a">Al<tspan font-size="7.92" dy="1.8">2</tspan><tspan dy="-1.8">​</tspan>O<tspan font-size="7.92" dy="1.8">3</tspan><tspan dy="-1.8">​</tspan></text>
<rect x="385" y="622.06" width="50.90" height="15.2" fill="#a8195a"/>
<text x="381.2" y="633.76" font-size="11" text-anchor="end" font-family='"Liberation Sans", sans-serif' fill="#1a1a1a">CaCO<tspan font-size="7.92" dy="1.8">3</tspan><tspan dy="-1.8">​</tspan></text>
<rect x="385" y="642.39" width="40.40" height="15.2" fill="#b9e2f4"/>
<text x="381.2" y="654.09" font-size="11" text-anchor="end" font-family='"Liberation Sans", sans-serif' fill="#1a1a1a">Amorphous content</text>
<rect x="385" y="662.72" width="39.70" height="15.2" fill="#6b7a6d"/>
<text x="381.2" y="674.42" font-size="11" text-anchor="end" font-family='"Liberation Sans", sans-serif' fill="#1a1a1a">SO<tspan font-size="7.92" dy="1.8">3</tspan><tspan dy="-1.8">​</tspan></text>
<rect x="385" y="683.05" width="38.30" height="15.2" fill="#a8195a"/>
<text x="381.2" y="694.75" font-size="11" text-anchor="end" font-family='"Liberation Sans", sans-serif' fill="#1a1a1a">K<tspan font-size="7.92" dy="1.8">2</tspan><tspan dy="-1.8">​</tspan>SO<tspan font-size="7.92" dy="1.8">4</tspan><tspan dy="-1.8">​</tspan></text>
<rect x="385" y="703.38" width="38.00" height="15.2" fill="#ee9b58"/>
<text x="381.2" y="715.08" font-size="11" text-anchor="end" font-family='"Liberation Sans", sans-serif' fill="#1a1a1a">Curing temp.</text>
<rect x="385" y="723.71" width="37.20" height="15.2" fill="#6b7a6d"/>
<text x="381.2" y="735.41" font-size="11" text-anchor="end" font-family='"Liberation Sans", sans-serif' fill="#1a1a1a">Loss on ignition</text>
<rect x="385" y="744.04" width="36.50" height="15.2" fill="#b9e2f4"/>
<text x="381.2" y="755.74" font-size="11" text-anchor="end" font-family='"Liberation Sans", sans-serif' fill="#1a1a1a">Specific gravity</text>
<rect x="385" y="764.37" width="32.30" height="15.2" fill="#6b7a6d"/>
<text x="381.2" y="776.07" font-size="11" text-anchor="end" font-family='"Liberation Sans", sans-serif' fill="#1a1a1a">SiO<tspan font-size="7.92" dy="1.8">2</tspan><tspan dy="-1.8">​</tspan></text>
<line x1="384.20" y1="580.00" x2="384.20" y2="783.70" stroke="#000" stroke-width="2" />
<line x1="383.20" y1="782.70" x2="482.80" y2="782.70" stroke="#000" stroke-width="2.2" />
<rect x="623" y="162.4" width="62" height="66.6" fill="#fff"/>
<line x1="585.00" y1="32.00" x2="585.00" y2="231.00" stroke="#b8b8b8" stroke-width="1.5" />
<linearGradient id="g4" x1="527.0" y1="0" x2="630.4" y2="0" gradientUnits="userSpaceOnUse"><stop offset="0" stop-color="#4a90ff"/><stop offset="0.08" stop-color="#4a88f8"/><stop offset="0.25" stop-color="#8040d8"/><stop offset="0.4" stop-color="#a030c8"/><stop offset="0.6" stop-color="#c02cb0"/><stop offset="0.75" stop-color="#d02a9a"/><stop offset="0.88" stop-color="#f02070"/><stop offset="1" stop-color="#ff1f58"/></linearGradient>
<circle cx="521.50" cy="44.50" r="1.25" fill="#4a90ff"/>
<circle cx="635.40" cy="44.50" r="1.25" fill="#ff1f58"/>
<circle cx="645.70" cy="44.50" r="1.25" fill="#ff1f58"/>
<circle cx="654.00" cy="44.50" r="1.25" fill="#ff1f58"/>
<circle cx="656.00" cy="44.50" r="1.25" fill="#ff1f58"/>
<circle cx="663.30" cy="44.50" r="1.25" fill="#ff1f58"/>
<circle cx="668.60" cy="44.50" r="1.25" fill="#ff1f58"/>
<circle cx="679.50" cy="44.50" r="1.25" fill="#ff1f58"/>
<polygon points="527.00,43.10 528.75,43.05 530.50,42.90 532.25,42.70 534.00,42.50 535.75,42.35 537.50,42.30 540.42,42.21 543.33,41.98 546.25,41.65 549.17,41.33 552.08,41.09 555.00,41.00 557.93,40.89 560.87,40.60 563.80,40.20 566.73,39.80 569.67,39.51 572.60,39.40 574.63,39.33 576.67,39.15 578.70,38.90 580.73,38.65 582.77,38.47 584.80,38.40 586.83,38.35 588.87,38.20 590.90,38.00 592.93,37.80 594.97,37.65 597.00,37.60 598.77,37.67 600.53,37.85 602.30,38.10 604.07,38.35 605.83,38.53 607.60,38.60 609.33,38.80 611.07,39.35 612.80,40.10 614.53,40.85 616.27,41.40 618.00,41.60 620.07,41.72 622.13,42.05 624.20,42.50 626.27,42.95 628.33,43.28 630.40,43.40 630.40,45.60 628.33,45.72 626.27,46.05 624.20,46.50 622.13,46.95 620.07,47.28 618.00,47.40 616.27,47.60 614.53,48.15 612.80,48.90 611.07,49.65 609.33,50.20 607.60,50.40 605.83,50.47 604.07,50.65 602.30,50.90 600.53,51.15 598.77,51.33 597.00,51.40 594.97,51.35 592.93,51.20 590.90,51.00 588.87,50.80 586.83,50.65 584.80,50.60 582.77,50.53 580.73,50.35 578.70,50.10 576.67,49.85 574.63,49.67 572.60,49.60 569.67,49.49 566.73,49.20 563.80,48.80 560.87,48.40 557.93,48.11 555.00,48.00 552.08,47.91 549.17,47.67 546.25,47.35 543.33,47.02 540.42,46.79 537.50,46.70 535.75,46.65 534.00,46.50 532.25,46.30 530.50,46.10 528.75,45.95 527.00,45.90" fill="url(#g4)" opacity="0.95"/>
<linearGradient id="g5" x1="552.3" y1="0" x2="605.7" y2="0" gradientUnits="userSpaceOnUse"><stop offset="0" stop-color="#9a34c8"/><stop offset="0.5" stop-color="#b02fbd"/><stop offset="0.85" stop-color="#c82ca8"/><stop offset="1" stop-color="#ff1f58"/></linearGradient>
<circle cx="548.80" cy="64.01" r="1.25" fill="#4a90ff"/>
<circle cx="611.00" cy="64.01" r="1.25" fill="#ff1f58"/>
<circle cx="623.00" cy="64.01" r="1.25" fill="#ff1f58"/>
<circle cx="629.50" cy="64.01" r="1.25" fill="#ff1f58"/>
<circle cx="636.80" cy="64.01" r="1.25" fill="#ff1f58"/>
<circle cx="642.70" cy="64.01" r="1.25" fill="#ff1f58"/>
<circle cx="645.00" cy="64.01" r="1.25" fill="#ff1f58"/>
<circle cx="651.40" cy="64.01" r="1.25" fill="#ff1f58"/>
<circle cx="654.30" cy="64.01" r="1.25" fill="#ff1f58"/>
<circle cx="657.80" cy="64.01" r="1.25" fill="#ff1f58"/>
<circle cx="666.00" cy="64.01" r="1.25" fill="#ff1f58"/>
<circle cx="674.80" cy="64.01" r="1.25" fill="#ff1f58"/>
<polygon points="552.30,63.01 553.08,62.94 553.87,62.76 554.65,62.51 555.43,62.26 556.22,62.08 557.00,62.01 558.00,61.88 559.00,61.51 560.00,61.01 561.00,60.51 562.00,60.14 563.00,60.01 564.17,59.88 565.33,59.51 566.50,59.01 567.67,58.51 568.83,58.14 570.00,58.01 571.00,57.96 572.00,57.84 573.00,57.66 574.00,57.49 575.00,57.36 576.00,57.31 577.17,57.34 578.33,57.44 579.50,57.56 580.67,57.69 581.83,57.78 583.00,57.81 584.17,57.89 585.33,58.11 586.50,58.41 587.67,58.71 588.83,58.93 590.00,59.01 591.17,59.14 592.33,59.51 593.50,60.01 594.67,60.51 595.83,60.88 597.00,61.01 597.83,61.10 598.67,61.36 599.50,61.71 600.33,62.06 601.17,62.32 602.00,62.41 602.62,62.46 603.23,62.61 603.85,62.81 604.47,63.01 605.08,63.16 605.70,63.21 605.70,64.81 605.08,64.86 604.47,65.01 603.85,65.21 603.23,65.41 602.62,65.56 602.00,65.61 601.17,65.70 600.33,65.96 599.50,66.31 598.67,66.66 597.83,66.92 597.00,67.01 595.83,67.14 594.67,67.51 593.50,68.01 592.33,68.51 591.17,68.88 590.00,69.01 588.83,69.09 587.67,69.31 586.50,69.61 585.33,69.91 584.17,70.13 583.00,70.21 581.83,70.24 580.67,70.34 579.50,70.46 578.33,70.59 577.17,70.68 576.00,70.71 575.00,70.66 574.00,70.54 573.00,70.36 572.00,70.19 571.00,70.06 570.00,70.01 568.83,69.88 567.67,69.51 566.50,69.01 565.33,68.51 564.17,68.14 563.00,68.01 562.00,67.88 561.00,67.51 560.00,67.01 559.00,66.51 558.00,66.14 557.00,66.01 556.22,65.94 555.43,65.76 554.65,65.51 553.87,65.26 553.08,65.08 552.30,65.01" fill="url(#g5)" opacity="0.95"/>
<linearGradient id="g6" x1="571.0" y1="0" x2="598" y2="0" gradientUnits="userSpaceOnUse"><stop offset="0" stop-color="#ff1f58"/><stop offset="1" stop-color="#ff1f58"/></linearGradient>
<circle cx="543.00" cy="83.52" r="1.25" fill="#4a90ff"/>
<circle cx="544.50" cy="83.52" r="1.25" fill="#4a90ff"/>
<circle cx="546.00" cy="83.52" r="1.25" fill="#4a90ff"/>
<circle cx="556.00" cy="83.52" r="1.25" fill="#4a90ff"/>
<circle cx="558.00" cy="83.52" r="1.25" fill="#4a90ff"/>
<circle cx="560.00" cy="83.52" r="1.25" fill="#4a90ff"/>
<circle cx="562.00" cy="83.52" r="1.25" fill="#4a90ff"/>
<circle cx="564.00" cy="83.52" r="1.25" fill="#4a90ff"/>
<circle cx="566.00" cy="83.52" r="1.25" fill="#4a90ff"/>
<circle cx="568.00" cy="83.52" r="1.25" fill="#4a90ff"/>
<circle cx="570.00" cy="83.52" r="1.25" fill="#4a90ff"/>
<circle cx="571.50" cy="83.52" r="1.25" fill="#4a90ff"/>
<circle cx="573.00" cy="83.52" r="1.25" fill="#4a90ff"/>
<circle cx="574.50" cy="83.52" r="1.25" fill="#4a90ff"/>
<circle cx="598.00" cy="83.52" r="1.25" fill="#ff1f58"/>
<circle cx="600.00" cy="83.52" r="1.25" fill="#ff1f58"/>
<polygon points="571.00,82.72 572.17,82.57 573.33,82.17 574.50,81.62 575.67,81.07 576.83,80.67 578.00,80.52 579.17,80.32 580.33,79.77 581.50,79.02 582.67,78.27 583.83,77.72 585.00,77.52 586.17,77.72 587.33,78.27 588.50,79.02 589.67,79.77 590.83,80.32 592.00,80.52 593.00,80.67 594.00,81.07 595.00,81.62 596.00,82.17 597.00,82.57 598.00,82.72 598.00,84.32 597.00,84.47 596.00,84.87 595.00,85.42 594.00,85.97 593.00,86.37 592.00,86.52 590.83,86.72 589.67,87.27 588.50,88.02 587.33,88.77 586.17,89.32 585.00,89.52 583.83,89.32 582.67,88.77 581.50,88.02 580.33,87.27 579.17,86.72 578.00,86.52 576.83,86.37 575.67,85.97 574.50,85.42 573.33,84.87 572.17,84.47 571.00,84.32" fill="url(#g6)" opacity="0.95"/>
<linearGradient id="g7" x1="573.0" y1="0" x2="603" y2="0" gradientUnits="userSpaceOnUse"><stop offset="0" stop-color="#4a90ff"/><stop offset="1" stop-color="#4a90ff"/></linearGradient>
<circle cx="551.50" cy="103.03" r="1.25" fill="#ff1f58"/>
<circle cx="553.00" cy="103.03" r="1.25" fill="#ff1f58"/>
<circle cx="554.50" cy="103.03" r="1.25" fill="#ff1f58"/>
<circle cx="556.00" cy="103.03" r="1.25" fill="#ff1f58"/>
<circle cx="557.50" cy="103.03" r="1.25" fill="#ff1f58"/>
<circle cx="561.50" cy="103.03" r="1.25" fill="#ff1f58"/>
<circle cx="563.00" cy="103.03" r="1.25" fill="#ff1f58"/>
<circle cx="564.50" cy="103.03" r="1.25" fill="#ff1f58"/>
<circle cx="566.00" cy="103.03" r="1.25" fill="#ff1f58"/>
<circle cx="567.50" cy="103.03" r="1.25" fill="#ff1f58"/>
<polygon points="573.00,101.53 574.17,101.23 575.33,100.41 576.50,99.28 577.67,98.16 578.83,97.33 580.00,97.03 581.33,96.93 582.67,96.66 584.00,96.28 585.33,95.91 586.67,95.63 588.00,95.53 589.50,95.66 591.00,96.03 592.50,96.53 594.00,97.03 595.50,97.40 597.00,97.53 598.00,97.80 599.00,98.53 600.00,99.53 601.00,100.53 602.00,101.26 603.00,101.53 603.00,104.53 602.00,104.80 601.00,105.53 600.00,106.53 599.00,107.53 598.00,108.26 597.00,108.53 595.50,108.66 594.00,109.03 592.50,109.53 591.00,110.03 589.50,110.40 588.00,110.53 586.67,110.43 585.33,110.16 584.00,109.78 582.67,109.41 581.33,109.13 580.00,109.03 578.83,108.73 577.67,107.91 576.50,106.78 575.33,105.66 574.17,104.83 573.00,104.53" fill="url(#g7)" opacity="0.95"/>
<linearGradient id="g8" x1="575.0" y1="0" x2="601" y2="0" gradientUnits="userSpaceOnUse"><stop offset="0" stop-color="#5a7ef0"/><stop offset="0.3" stop-color="#9a35c8"/><stop offset="0.5" stop-color="#c22ca8"/><stop offset="0.7" stop-color="#6c6ae8"/><stop offset="1" stop-color="#4a90ff"/></linearGradient>
<circle cx="570.70" cy="122.54" r="1.25" fill="#ff1f58"/>
<circle cx="573.00" cy="122.54" r="1.25" fill="#ff1f58"/>
<circle cx="609.60" cy="122.54" r="1.25" fill="#4a90ff"/>
<circle cx="594.00" cy="122.54" r="1.25" fill="#4a90ff"/>
<circle cx="595.50" cy="122.54" r="1.25" fill="#4a90ff"/>
<circle cx="597.00" cy="122.54" r="1.25" fill="#4a90ff"/>
<circle cx="598.50" cy="122.54" r="1.25" fill="#4a90ff"/>
<circle cx="600.00" cy="122.54" r="1.25" fill="#4a90ff"/>
<polygon points="575.00,121.54 575.83,121.34 576.67,120.79 577.50,120.04 578.33,119.29 579.17,118.74 580.00,118.54 580.83,118.35 581.67,117.82 582.50,117.09 583.33,116.37 584.17,115.83 585.00,115.64 585.83,115.83 586.67,116.37 587.50,117.09 588.33,117.82 589.17,118.35 590.00,118.54 590.83,118.71 591.67,119.17 592.50,119.79 593.33,120.42 594.17,120.87 595.00,121.04 596.00,121.09 597.00,121.22 598.00,121.39 599.00,121.57 600.00,121.69 601.00,121.74 601.00,123.34 600.00,123.39 599.00,123.52 598.00,123.69 597.00,123.87 596.00,123.99 595.00,124.04 594.17,124.21 593.33,124.67 592.50,125.29 591.67,125.92 590.83,126.37 590.00,126.54 589.17,126.73 588.33,127.27 587.50,127.99 586.67,128.72 585.83,129.25 585.00,129.44 584.17,129.25 583.33,128.72 582.50,127.99 581.67,127.27 580.83,126.73 580.00,126.54 579.17,126.34 578.33,125.79 577.50,125.04 576.67,124.29 575.83,123.74 575.00,123.54" fill="url(#g8)" opacity="0.95"/>
<linearGradient id="g9" x1="573.6" y1="0" x2="599" y2="0" gradientUnits="userSpaceOnUse"><stop offset="0" stop-color="#4a90ff"/><stop offset="1" stop-color="#4a90ff"/></linearGradient>
<circle cx="551.70" cy="142.05" r="1.25" fill="#ff1f58"/>
<circle cx="555.50" cy="142.05" r="1.25" fill="#ff1f58"/>
<circle cx="562.20" cy="142.05" r="1.25" fill="#ff1f58"/>
<circle cx="568.80" cy="142.05" r="1.25" fill="#ff1f58"/>
<circle cx="574.50" cy="142.05" r="1.25" fill="#ff1f58"/>
<polygon points="573.60,140.85 574.33,140.66 575.07,140.15 575.80,139.45 576.53,138.75 577.27,138.24 578.00,138.05 578.83,137.85 579.67,137.30 580.50,136.55 581.33,135.80 582.17,135.25 583.00,135.05 584.50,135.18 586.00,135.55 587.50,136.05 589.00,136.55 590.50,136.92 592.00,137.05 593.17,137.32 594.33,138.05 595.50,139.05 596.67,140.05 597.83,140.78 599.00,141.05 599.00,143.05 597.83,143.32 596.67,144.05 595.50,145.05 594.33,146.05 593.17,146.78 592.00,147.05 590.50,147.18 589.00,147.55 587.50,148.05 586.00,148.55 584.50,148.92 583.00,149.05 582.17,148.85 581.33,148.30 580.50,147.55 579.67,146.80 578.83,146.25 578.00,146.05 577.27,145.86 576.53,145.35 575.80,144.65 575.07,143.95 574.33,143.44 573.60,143.25" fill="url(#g9)" opacity="0.95"/>
<linearGradient id="g10" x1="574.5" y1="0" x2="601" y2="0" gradientUnits="userSpaceOnUse"><stop offset="0" stop-color="#5a7ef0"/><stop offset="0.3" stop-color="#9a35c8"/><stop offset="0.6" stop-color="#e0287f"/><stop offset="1" stop-color="#ff1f58"/></linearGradient>
<circle cx="597.30" cy="161.56" r="1.25" fill="#ff1f58"/>
<circle cx="600.70" cy="161.56" r="1.25" fill="#ff1f58"/>
<circle cx="603.90" cy="161.56" r="1.25" fill="#ff1f58"/>
<circle cx="608.70" cy="161.56" r="1.25" fill="#ff1f58"/>
<polygon points="574.50,160.56 575.25,160.36 576.00,159.81 576.75,159.06 577.50,158.31 578.25,157.76 579.00,157.56 579.50,157.39 580.00,156.94 580.50,156.31 581.00,155.69 581.50,155.23 582.00,155.06 583.00,155.23 584.00,155.69 585.00,156.31 586.00,156.94 587.00,157.39 588.00,157.56 589.00,157.73 590.00,158.19 591.00,158.81 592.00,159.44 593.00,159.89 594.00,160.06 595.17,160.11 596.33,160.24 597.50,160.41 598.67,160.59 599.83,160.71 601.00,160.76 601.00,162.36 599.83,162.41 598.67,162.53 597.50,162.71 596.33,162.88 595.17,163.01 594.00,163.06 593.00,163.23 592.00,163.69 591.00,164.31 590.00,164.94 589.00,165.39 588.00,165.56 587.00,165.73 586.00,166.19 585.00,166.81 584.00,167.44 583.00,167.89 582.00,168.06 581.50,167.89 581.00,167.44 580.50,166.81 580.00,166.19 579.50,165.73 579.00,165.56 578.25,165.36 577.50,164.81 576.75,164.06 576.00,163.31 575.25,162.76 574.50,162.56" fill="url(#g10)" opacity="0.95"/>
<linearGradient id="g11" x1="576.0" y1="0" x2="603" y2="0" gradientUnits="userSpaceOnUse"><stop offset="0" stop-color="#9a35c8"/><stop offset="0.35" stop-color="#d02a98"/><stop offset="1" stop-color="#ff1f58"/></linearGradient>
<circle cx="537.00" cy="181.07" r="1.25" fill="#ff1f58"/>
<circle cx="544.00" cy="181.07" r="1.25" fill="#ff1f58"/>
<circle cx="607.00" cy="181.07" r="1.25" fill="#ff1f58"/>
<polygon points="576.00,180.07 576.67,179.87 577.33,179.32 578.00,178.57 578.67,177.82 579.33,177.27 580.00,177.07 580.50,176.90 581.00,176.45 581.50,175.82 582.00,175.20 582.50,174.74 583.00,174.57 584.17,174.80 585.33,175.45 586.50,176.32 587.67,177.20 588.83,177.84 590.00,178.07 591.00,178.19 592.00,178.52 593.00,178.97 594.00,179.42 595.00,179.75 596.00,179.87 597.17,179.90 598.33,179.97 599.50,180.07 600.67,180.17 601.83,180.24 603.00,180.27 603.00,181.87 601.83,181.90 600.67,181.97 599.50,182.07 598.33,182.17 597.17,182.24 596.00,182.27 595.00,182.39 594.00,182.72 593.00,183.17 592.00,183.62 591.00,183.95 590.00,184.07 588.83,184.30 587.67,184.95 586.50,185.82 585.33,186.70 584.17,187.34 583.00,187.57 582.50,187.40 582.00,186.95 581.50,186.32 581.00,185.70 580.50,185.24 580.00,185.07 579.33,184.87 578.67,184.32 578.00,183.57 577.33,182.82 576.67,182.27 576.00,182.07" fill="url(#g11)" opacity="0.95"/>
<linearGradient id="g12" x1="577.0" y1="0" x2="599" y2="0" gradientUnits="userSpaceOnUse"><stop offset="0" stop-color="#4a90ff"/><stop offset="1" stop-color="#4a90ff"/></linearGradient>
<circle cx="566.90" cy="200.58" r="1.25" fill="#ff1f58"/>
<circle cx="574.50" cy="200.58" r="1.25" fill="#ff1f58"/>
<circle cx="576.40" cy="200.58" r="1.25" fill="#4a90ff"/>
<circle cx="590.00" cy="200.58" r="1.25" fill="#4a90ff"/>
<circle cx="591.50" cy="200.58" r="1.25" fill="#4a90ff"/>
<circle cx="593.00" cy="200.58" r="1.25" fill="#4a90ff"/>
<circle cx="594.50" cy="200.58" r="1.25" fill="#4a90ff"/>
<circle cx="596.00" cy="200.58" r="1.25" fill="#4a90ff"/>
<circle cx="597.50" cy="200.58" r="1.25" fill="#4a90ff"/>
<circle cx="599.00" cy="200.58" r="1.25" fill="#4a90ff"/>
<polygon points="577.00,199.58 578.33,199.19 579.67,198.13 581.00,196.68 582.33,195.23 583.67,194.17 585.00,193.78 585.93,194.17 586.87,195.23 587.80,196.68 588.73,198.13 589.67,199.19 590.60,199.58 592.00,199.59 593.40,199.63 594.80,199.68 596.20,199.73 597.60,199.77 599.00,199.78 599.00,201.38 597.60,201.39 596.20,201.43 594.80,201.48 593.40,201.53 592.00,201.57 590.60,201.58 589.67,201.97 588.73,203.03 587.80,204.48 586.87,205.93 585.93,206.99 585.00,207.38 583.67,206.99 582.33,205.93 581.00,204.48 579.67,203.03 578.33,201.97 577.00,201.58" fill="url(#g12)" opacity="0.95"/>
<linearGradient id="g13" x1="576.4" y1="0" x2="595.4" y2="0" gradientUnits="userSpaceOnUse"><stop offset="0" stop-color="#ff1f58"/><stop offset="1" stop-color="#ff1f58"/></linearGradient>
<circle cx="545.10" cy="220.09" r="1.25" fill="#4a90ff"/>
<circle cx="550.80" cy="220.09" r="1.25" fill="#4a90ff"/>
<circle cx="552.30" cy="220.09" r="1.25" fill="#4a90ff"/>
<circle cx="553.80" cy="220.09" r="1.25" fill="#4a90ff"/>
<circle cx="555.30" cy="220.09" r="1.25" fill="#4a90ff"/>
<circle cx="562.20" cy="220.09" r="1.25" fill="#4a90ff"/>
<circle cx="565.00" cy="220.09" r="1.25" fill="#4a90ff"/>
<circle cx="566.50" cy="220.09" r="1.25" fill="#4a90ff"/>
<circle cx="568.00" cy="220.09" r="1.25" fill="#4a90ff"/>
<circle cx="569.50" cy="220.09" r="1.25" fill="#4a90ff"/>
<circle cx="573.60" cy="220.09" r="1.25" fill="#4a90ff"/>
<circle cx="574.80" cy="220.09" r="1.25" fill="#4a90ff"/>
<circle cx="576.00" cy="220.09" r="1.25" fill="#4a90ff"/>
<circle cx="596.30" cy="220.09" r="1.25" fill="#ff1f58"/>
<circle cx="597.80" cy="220.09" r="1.25" fill="#ff1f58"/>
<circle cx="599.30" cy="220.09" r="1.25" fill="#ff1f58"/>
<circle cx="600.80" cy="220.09" r="1.25" fill="#ff1f58"/>
<polygon points="576.40,219.09 578.00,218.69 579.60,217.59 581.20,216.09 582.80,214.59 584.40,213.49 586.00,213.09 587.57,213.49 589.13,214.59 590.70,216.09 592.27,217.59 593.83,218.69 595.40,219.09 595.40,221.09 593.83,221.49 592.27,222.59 590.70,224.09 589.13,225.59 587.57,226.69 586.00,227.09 584.40,226.69 582.80,225.59 581.20,224.09 579.60,222.59 578.00,221.49 576.40,221.09" fill="url(#g13)" opacity="0.95"/>
<line x1="489.00" y1="231.00" x2="681.00" y2="231.00" stroke="#000" stroke-width="2.2" />
<text x="585.00" y="246.00" font-size="11.5" text-anchor="middle" font-weight="normal" font-family='"Liberation Sans", sans-serif' fill="#1a1a1a" >0</text>
<text x="681.00" y="246.00" font-size="11.5" text-anchor="middle" font-weight="normal" font-family='"Liberation Sans", sans-serif' fill="#1a1a1a" >2</text>
<rect x="483" y="241.30" width="3.8" height="1.25" fill="#1a1a1a"/>
<text x="488.35" y="246.00" font-size="11.5" text-anchor="start" font-weight="normal" font-family='"Liberation Sans", sans-serif' fill="#1a1a1a" >2</text>
<text x="586.50" y="266.50" font-size="11.5" text-anchor="middle" font-weight="normal" font-family='"Liberation Sans", sans-serif' fill="#1a1a1a" >SHAP value (J/g)</text>
<linearGradient id="g14" x1="0" y1="172.4" x2="0" y2="224.9" gradientUnits="userSpaceOnUse"><stop offset="0" stop-color="#ff1f58"/><stop offset="0.5" stop-color="#a02cc4"/><stop offset="0.85" stop-color="#4a88f8"/><stop offset="1" stop-color="#4a90ff"/></linearGradient>
<path d="M630,176.6 A9.5,4.2 0 0 1 649,176.6 L649,220.70000000000002 A9.5,4.2 0 0 1 630,220.70000000000002 Z" fill="url(#g14)"/>
<text x="654.50" y="184.70" font-size="11.2" text-anchor="start" font-weight="normal" font-family='"Liberation Sans", sans-serif' fill="#1a1a1a" >High</text>
<text x="655.50" y="220.40" font-size="11.2" text-anchor="start" font-weight="normal" font-family='"Liberation Sans", sans-serif' fill="#1a1a1a" >Low</text>
<rect x="616" y="436" width="69" height="67" fill="#fff"/>
<line x1="584.50" y1="301.00" x2="584.50" y2="505.00" stroke="#b8b8b8" stroke-width="1.5" />
<linearGradient id="g15" x1="569.2" y1="0" x2="593.8" y2="0" gradientUnits="userSpaceOnUse"><stop offset="0" stop-color="#9b36c9"/><stop offset="0.6" stop-color="#b02fbd"/><stop offset="1" stop-color="#d02a98"/></linearGradient>
<circle cx="595.30" cy="312.80" r="1.25" fill="#ff1f58"/>
<circle cx="600.40" cy="312.80" r="1.25" fill="#ff1f58"/>
<circle cx="605.50" cy="312.80" r="1.25" fill="#ff1f58"/>
<circle cx="607.50" cy="312.80" r="1.25" fill="#ff1f58"/>
<circle cx="609.90" cy="312.80" r="1.25" fill="#ff1f58"/>
<circle cx="611.30" cy="312.80" r="1.25" fill="#ff1f58"/>
<circle cx="617.90" cy="312.80" r="1.25" fill="#ff1f58"/>
<circle cx="620.00" cy="312.80" r="1.25" fill="#ff1f58"/>
<circle cx="622.50" cy="312.80" r="1.25" fill="#ff1f58"/>
<circle cx="624.50" cy="312.80" r="1.25" fill="#ff1f58"/>
<circle cx="628.10" cy="312.80" r="1.25" fill="#ff1f58"/>
<circle cx="639.00" cy="312.80" r="1.25" fill="#ff1f58"/>
<polygon points="569.20,311.80 570.00,311.59 570.80,311.00 571.60,310.20 572.40,309.40 573.20,308.81 574.00,308.60 574.67,308.46 575.33,308.07 576.00,307.55 576.67,307.03 577.33,306.64 578.00,306.50 578.50,306.46 579.00,306.35 579.50,306.20 580.00,306.05 580.50,305.94 581.00,305.90 581.67,305.96 582.33,306.12 583.00,306.35 583.67,306.57 584.33,306.74 585.00,306.80 585.67,306.97 586.33,307.43 587.00,308.05 587.67,308.68 588.33,309.13 589.00,309.30 589.80,309.47 590.60,309.93 591.40,310.55 592.20,311.18 593.00,311.63 593.80,311.80 593.80,313.80 593.00,313.97 592.20,314.43 591.40,315.05 590.60,315.68 589.80,316.13 589.00,316.30 588.33,316.47 587.67,316.93 587.00,317.55 586.33,318.18 585.67,318.63 585.00,318.80 584.33,318.86 583.67,319.03 583.00,319.25 582.33,319.48 581.67,319.64 581.00,319.70 580.50,319.66 580.00,319.55 579.50,319.40 579.00,319.25 578.50,319.14 578.00,319.10 577.33,318.96 576.67,318.57 576.00,318.05 575.33,317.53 574.67,317.14 574.00,317.00 573.20,316.79 572.40,316.20 571.60,315.40 570.80,314.60 570.00,314.01 569.20,313.80" fill="url(#g15)" opacity="0.95"/>
<linearGradient id="g16" x1="567.0" y1="0" x2="604.2" y2="0" gradientUnits="userSpaceOnUse"><stop offset="0" stop-color="#ff1f58"/><stop offset="0.15" stop-color="#a032c8"/><stop offset="0.45" stop-color="#4a90ff"/><stop offset="1" stop-color="#4a90ff"/></linearGradient>
<circle cx="554.80" cy="332.98" r="1.25" fill="#ff1f58"/>
<circle cx="612.00" cy="332.98" r="1.25" fill="#4a90ff"/>
<circle cx="616.00" cy="332.98" r="1.25" fill="#4a90ff"/>
<circle cx="619.00" cy="332.98" r="1.25" fill="#4a90ff"/>
<polygon points="567.00,331.98 568.33,331.78 569.67,331.23 571.00,330.48 572.33,329.73 573.67,329.18 575.00,328.98 576.67,328.81 578.33,328.33 580.00,327.68 581.67,327.03 583.33,326.55 585.00,326.38 586.67,326.59 588.33,327.16 590.00,327.93 591.67,328.71 593.33,329.27 595.00,329.48 596.53,329.66 598.07,330.16 599.60,330.83 601.13,331.50 602.67,332.00 604.20,332.18 604.20,333.78 602.67,333.96 601.13,334.46 599.60,335.13 598.07,335.81 596.53,336.30 595.00,336.48 593.33,336.69 591.67,337.25 590.00,338.03 588.33,338.81 586.67,339.37 585.00,339.58 583.33,339.41 581.67,338.93 580.00,338.28 578.33,337.63 576.67,337.15 575.00,336.98 573.67,336.78 572.33,336.23 571.00,335.48 569.67,334.73 568.33,334.18 567.00,333.98" fill="url(#g16)" opacity="0.95"/>
<linearGradient id="g17" x1="579.4" y1="0" x2="595" y2="0" gradientUnits="userSpaceOnUse"><stop offset="0" stop-color="#4a90ff"/><stop offset="1" stop-color="#4a90ff"/></linearGradient>
<circle cx="564.00" cy="353.16" r="1.25" fill="#ff1f58"/>
<circle cx="565.50" cy="353.16" r="1.25" fill="#ff1f58"/>
<circle cx="570.00" cy="353.16" r="1.25" fill="#ff1f58"/>
<circle cx="571.50" cy="353.16" r="1.25" fill="#ff1f58"/>
<circle cx="573.00" cy="353.16" r="1.25" fill="#ff1f58"/>
<circle cx="574.50" cy="353.16" r="1.25" fill="#ff1f58"/>
<circle cx="576.00" cy="353.16" r="1.25" fill="#ff1f58"/>
<circle cx="577.50" cy="353.16" r="1.25" fill="#ff1f58"/>
<polygon points="579.40,352.16 580.33,351.79 581.27,350.79 582.20,349.41 583.13,348.04 584.07,347.03 585.00,346.66 585.90,347.02 586.80,347.99 587.70,349.31 588.60,350.64 589.50,351.60 590.40,351.96 591.17,351.99 591.93,352.06 592.70,352.16 593.47,352.26 594.23,352.33 595.00,352.36 595.00,353.96 594.23,353.99 593.47,354.06 592.70,354.16 591.93,354.26 591.17,354.33 590.40,354.36 589.50,354.72 588.60,355.69 587.70,357.01 586.80,358.34 585.90,359.30 585.00,359.66 584.07,359.29 583.13,358.29 582.20,356.91 581.27,355.54 580.33,354.53 579.40,354.16" fill="url(#g17)" opacity="0.95"/>
<linearGradient id="g18" x1="568.0" y1="0" x2="598" y2="0" gradientUnits="userSpaceOnUse"><stop offset="0" stop-color="#4a90ff"/><stop offset="0.35" stop-color="#8a3cd8"/><stop offset="0.55" stop-color="#c02ab0"/><stop offset="0.75" stop-color="#ff1f58"/><stop offset="1" stop-color="#ff1f58"/></linearGradient>
<circle cx="604.70" cy="373.34" r="1.25" fill="#ff1f58"/>
<polygon points="568.00,372.54 569.33,372.36 570.67,371.87 572.00,371.19 573.33,370.52 574.67,370.02 576.00,369.84 577.50,369.64 579.00,369.09 580.50,368.34 582.00,367.59 583.50,367.04 585.00,366.84 586.17,367.01 587.33,367.47 588.50,368.09 589.67,368.72 590.83,369.17 592.00,369.34 593.00,369.55 594.00,370.14 595.00,370.94 596.00,371.74 597.00,372.33 598.00,372.54 598.00,374.14 597.00,374.35 596.00,374.94 595.00,375.74 594.00,376.54 593.00,377.13 592.00,377.34 590.83,377.51 589.67,377.97 588.50,378.59 587.33,379.22 586.17,379.67 585.00,379.84 583.50,379.64 582.00,379.09 580.50,378.34 579.00,377.59 577.50,377.04 576.00,376.84 574.67,376.66 573.33,376.17 572.00,375.49 570.67,374.82 569.33,374.32 568.00,374.14" fill="url(#g18)" opacity="0.95"/>
<linearGradient id="g19" x1="582.5" y1="0" x2="590" y2="0" gradientUnits="userSpaceOnUse"><stop offset="0" stop-color="#4a90ff"/><stop offset="1" stop-color="#4a90ff"/></linearGradient>
<circle cx="573.70" cy="393.52" r="1.25" fill="#ff1f58"/>
<circle cx="575.20" cy="393.52" r="1.25" fill="#ff1f58"/>
<circle cx="576.70" cy="393.52" r="1.25" fill="#ff1f58"/>
<circle cx="578.20" cy="393.52" r="1.25" fill="#ff1f58"/>
<circle cx="579.70" cy="393.52" r="1.25" fill="#ff1f58"/>
<polygon points="582.50,392.52 582.83,392.13 583.17,391.07 583.50,389.62 583.83,388.17 584.17,387.11 584.50,386.72 584.82,387.11 585.13,388.17 585.45,389.62 585.77,391.07 586.08,392.13 586.40,392.52 587.00,392.55 587.60,392.62 588.20,392.72 588.80,392.82 589.40,392.89 590.00,392.92 590.00,394.12 589.40,394.15 588.80,394.22 588.20,394.32 587.60,394.42 587.00,394.49 586.40,394.52 586.08,394.91 585.77,395.97 585.45,397.42 585.13,398.87 584.82,399.93 584.50,400.32 584.17,399.93 583.83,398.87 583.50,397.42 583.17,395.97 582.83,394.91 582.50,394.52" fill="url(#g19)" opacity="0.95"/>
<linearGradient id="g20" x1="578.8" y1="0" x2="591.7" y2="0" gradientUnits="userSpaceOnUse"><stop offset="0" stop-color="#ff1f58"/><stop offset="0.3" stop-color="#8a3cd8"/><stop offset="0.5" stop-color="#4a90ff"/><stop offset="1" stop-color="#4a90ff"/></linearGradient>
<circle cx="575.00" cy="413.70" r="1.25" fill="#ff1f58"/>
<circle cx="576.50" cy="413.70" r="1.25" fill="#ff1f58"/>
<circle cx="578.00" cy="413.70" r="1.25" fill="#ff1f58"/>
<polygon points="578.80,412.70 579.33,412.50 579.87,411.95 580.40,411.20 580.93,410.45 581.47,409.90 582.00,409.70 582.67,409.51 583.33,409.00 584.00,408.30 584.67,407.60 585.33,407.09 586.00,406.90 586.95,407.29 587.90,408.35 588.85,409.80 589.80,411.25 590.75,412.31 591.70,412.70 591.70,414.70 590.75,415.09 589.80,416.15 588.85,417.60 587.90,419.05 586.95,420.11 586.00,420.50 585.33,420.31 584.67,419.80 584.00,419.10 583.33,418.40 582.67,417.89 582.00,417.70 581.47,417.50 580.93,416.95 580.40,416.20 579.87,415.45 579.33,414.90 578.80,414.70" fill="url(#g20)" opacity="0.95"/>
<linearGradient id="g21" x1="582.0" y1="0" x2="592" y2="0" gradientUnits="userSpaceOnUse"><stop offset="0" stop-color="#4a90ff"/><stop offset="1" stop-color="#4a90ff"/></linearGradient>
<circle cx="579.00" cy="433.88" r="1.25" fill="#ff1f58"/>
<circle cx="580.50" cy="433.88" r="1.25" fill="#ff1f58"/>
<circle cx="588.00" cy="433.88" r="1.25" fill="#4a90ff"/>
<circle cx="589.50" cy="433.88" r="1.25" fill="#4a90ff"/>
<circle cx="591.00" cy="433.88" r="1.25" fill="#4a90ff"/>
<polygon points="582.00,432.88 582.42,432.51 582.83,431.50 583.25,430.13 583.67,428.75 584.08,427.75 584.50,427.38 585.08,427.75 585.67,428.75 586.25,430.13 586.83,431.50 587.42,432.51 588.00,432.88 588.67,432.89 589.33,432.93 590.00,432.98 590.67,433.03 591.33,433.07 592.00,433.08 592.00,434.68 591.33,434.69 590.67,434.73 590.00,434.78 589.33,434.83 588.67,434.87 588.00,434.88 587.42,435.25 586.83,436.25 586.25,437.63 585.67,439.00 585.08,440.01 584.50,440.38 584.08,440.01 583.67,439.00 583.25,437.63 582.83,436.25 582.42,435.25 582.00,434.88" fill="url(#g21)" opacity="0.95"/>
<linearGradient id="g22" x1="578.8" y1="0" x2="590.2" y2="0" gradientUnits="userSpaceOnUse"><stop offset="0" stop-color="#8a3cd8"/><stop offset="1" stop-color="#a030c8"/></linearGradient>
<circle cx="564.00" cy="454.06" r="1.25" fill="#ff1f58"/>
<circle cx="566.00" cy="454.06" r="1.25" fill="#ff1f58"/>
<circle cx="572.00" cy="454.06" r="1.25" fill="#ff1f58"/>
<circle cx="575.00" cy="454.06" r="1.25" fill="#ff1f58"/>
<circle cx="577.00" cy="454.06" r="1.25" fill="#ff1f58"/>
<circle cx="593.00" cy="454.06" r="1.25" fill="#a22ec4"/>
<circle cx="595.00" cy="454.06" r="1.25" fill="#a22ec4"/>
<circle cx="597.00" cy="454.06" r="1.25" fill="#a22ec4"/>
<circle cx="601.00" cy="454.06" r="1.25" fill="#ff1f58"/>
<polygon points="578.80,453.06 579.75,452.66 580.70,451.56 581.65,450.06 582.60,448.56 583.55,447.46 584.50,447.06 585.45,447.46 586.40,448.56 587.35,450.06 588.30,451.56 589.25,452.66 590.20,453.06 590.20,455.06 589.25,455.46 588.30,456.56 587.35,458.06 586.40,459.56 585.45,460.66 584.50,461.06 583.55,460.66 582.60,459.56 581.65,458.06 580.70,456.56 579.75,455.46 578.80,455.06" fill="url(#g22)" opacity="0.95"/>
<linearGradient id="g23" x1="579.0" y1="0" x2="591" y2="0" gradientUnits="userSpaceOnUse"><stop offset="0" stop-color="#4a90ff"/><stop offset="1" stop-color="#4a90ff"/></linearGradient>
<circle cx="563.00" cy="474.24" r="1.25" fill="#ff1f58"/>
<circle cx="564.50" cy="474.24" r="1.25" fill="#ff1f58"/>
<circle cx="566.00" cy="474.24" r="1.25" fill="#ff1f58"/>
<circle cx="570.00" cy="474.24" r="1.25" fill="#ff1f58"/>
<circle cx="571.50" cy="474.24" r="1.25" fill="#ff1f58"/>
<circle cx="573.00" cy="474.24" r="1.25" fill="#ff1f58"/>
<circle cx="575.00" cy="474.24" r="1.25" fill="#ff1f58"/>
<circle cx="576.50" cy="474.24" r="1.25" fill="#ff1f58"/>
<circle cx="578.00" cy="474.24" r="1.25" fill="#ff1f58"/>
<polygon points="579.00,473.24 580.00,472.84 581.00,471.74 582.00,470.24 583.00,468.74 584.00,467.64 585.00,467.24 586.00,467.64 587.00,468.74 588.00,470.24 589.00,471.74 590.00,472.84 591.00,473.24 591.00,475.24 590.00,475.64 589.00,476.74 588.00,478.24 587.00,479.74 586.00,480.84 585.00,481.24 584.00,480.84 583.00,479.74 582.00,478.24 581.00,476.74 580.00,475.64 579.00,475.24" fill="url(#g23)" opacity="0.95"/>
<linearGradient id="g24" x1="579.0" y1="0" x2="592" y2="0" gradientUnits="userSpaceOnUse"><stop offset="0" stop-color="#ff1f58"/><stop offset="0.8" stop-color="#ff1f58"/><stop offset="1" stop-color="#8a3cd8"/></linearGradient>
<circle cx="563.00" cy="494.42" r="1.25" fill="#4a90ff"/>
<circle cx="564.50" cy="494.42" r="1.25" fill="#4a90ff"/>
<circle cx="566.00" cy="494.42" r="1.25" fill="#4a90ff"/>
<circle cx="567.50" cy="494.42" r="1.25" fill="#4a90ff"/>
<circle cx="569.00" cy="494.42" r="1.25" fill="#4a90ff"/>
<circle cx="573.00" cy="494.42" r="1.25" fill="#4a90ff"/>
<circle cx="574.50" cy="494.42" r="1.25" fill="#4a90ff"/>
<circle cx="576.00" cy="494.42" r="1.25" fill="#4a90ff"/>
<circle cx="577.50" cy="494.42" r="1.25" fill="#4a90ff"/>
<polygon points="579.00,493.42 580.00,493.02 581.00,491.92 582.00,490.42 583.00,488.92 584.00,487.82 585.00,487.42 586.17,487.82 587.33,488.92 588.50,490.42 589.67,491.92 590.83,493.02 592.00,493.42 592.00,495.42 590.83,495.82 589.67,496.92 588.50,498.42 587.33,499.92 586.17,501.02 585.00,501.42 584.00,501.02 583.00,499.92 582.00,498.42 581.00,496.92 580.00,495.82 579.00,495.42" fill="url(#g24)" opacity="0.95"/>
<line x1="489.00" y1="505.00" x2="681.00" y2="505.00" stroke="#000" stroke-width="2.2" />
<text x="585.00" y="519.00" font-size="11.5" text-anchor="middle" font-weight="normal" font-family='"Liberation Sans", sans-serif' fill="#1a1a1a" >0</text>
<text x="681.00" y="519.00" font-size="11.5" text-anchor="middle" font-weight="normal" font-family='"Liberation Sans", sans-serif' fill="#1a1a1a" >2</text>
<rect x="482.4" y="514.30" width="3.8" height="1.25" fill="#1a1a1a"/>
<text x="487.65" y="519.00" font-size="11.5" text-anchor="start" font-weight="normal" font-family='"Liberation Sans", sans-serif' fill="#1a1a1a" >2</text>
<text x="587.00" y="540.50" font-size="11.5" text-anchor="middle" font-weight="normal" font-family='"Liberation Sans", sans-serif' fill="#1a1a1a" >SHAP value (g/100 g)</text>
<linearGradient id="g25" x1="0" y1="446" x2="0" y2="498" gradientUnits="userSpaceOnUse"><stop offset="0" stop-color="#ff1f58"/><stop offset="0.5" stop-color="#a02cc4"/><stop offset="0.85" stop-color="#4a88f8"/><stop offset="1" stop-color="#4a90ff"/></linearGradient>
<path d="M623,450.2 A9.0,4.2 0 0 1 641,450.2 L641,493.8 A9.0,4.2 0 0 1 623,493.8 Z" fill="url(#g25)"/>
<text x="646.50" y="458.30" font-size="11.2" text-anchor="start" font-weight="normal" font-family='"Liberation Sans", sans-serif' fill="#1a1a1a" >High</text>
<text x="647.50" y="493.50" font-size="11.2" text-anchor="start" font-weight="normal" font-family='"Liberation Sans", sans-serif' fill="#1a1a1a" >Low</text>
<rect x="617.2" y="712.9" width="67.79999999999995" height="67.80000000000007" fill="#fff"/>
<line x1="584.50" y1="578.50" x2="584.50" y2="782.70" stroke="#b8b8b8" stroke-width="1.5" />
<linearGradient id="g26" x1="554.5" y1="0" x2="616.5" y2="0" gradientUnits="userSpaceOnUse"><stop offset="0" stop-color="#4a90ff"/><stop offset="0.2" stop-color="#5a78f0"/><stop offset="0.3" stop-color="#8040d8"/><stop offset="0.45" stop-color="#a030c8"/><stop offset="0.58" stop-color="#c02ab0"/><stop offset="0.66" stop-color="#e0288a"/><stop offset="0.72" stop-color="#ff1f58"/><stop offset="1" stop-color="#ff1f58"/></linearGradient>
<circle cx="540.00" cy="589.50" r="1.25" fill="#4a90ff"/>
<polygon points="554.50,588.50 555.75,588.37 557.00,588.00 558.25,587.50 559.50,587.00 560.75,586.63 562.00,586.50 563.67,586.37 565.33,586.00 567.00,585.50 568.67,585.00 570.33,584.63 572.00,584.50 573.33,584.42 574.67,584.20 576.00,583.90 577.33,583.60 578.67,583.38 580.00,583.30 581.67,583.27 583.33,583.20 585.00,583.10 586.67,583.00 588.33,582.93 590.00,582.90 590.83,582.97 591.67,583.17 592.50,583.45 593.33,583.73 594.17,583.93 595.00,584.00 595.50,584.10 596.00,584.38 596.50,584.75 597.00,585.12 597.50,585.40 598.00,585.50 599.00,585.49 600.00,585.45 601.00,585.40 602.00,585.35 603.00,585.31 604.00,585.30 605.00,585.34 606.00,585.45 607.00,585.60 608.00,585.75 609.00,585.86 610.00,585.90 611.08,586.07 612.17,586.55 613.25,587.20 614.33,587.85 615.42,588.33 616.50,588.50 616.50,590.50 615.42,590.67 614.33,591.15 613.25,591.80 612.17,592.45 611.08,592.93 610.00,593.10 609.00,593.14 608.00,593.25 607.00,593.40 606.00,593.55 605.00,593.66 604.00,593.70 603.00,593.69 602.00,593.65 601.00,593.60 600.00,593.55 599.00,593.51 598.00,593.50 597.50,593.60 597.00,593.88 596.50,594.25 596.00,594.62 595.50,594.90 595.00,595.00 594.17,595.07 593.33,595.27 592.50,595.55 591.67,595.83 590.83,596.03 590.00,596.10 588.33,596.07 586.67,596.00 585.00,595.90 583.33,595.80 581.67,595.73 580.00,595.70 578.67,595.62 577.33,595.40 576.00,595.10 574.67,594.80 573.33,594.58 572.00,594.50 570.33,594.37 568.67,594.00 567.00,593.50 565.33,593.00 563.67,592.63 562.00,592.50 560.75,592.37 559.50,592.00 558.25,591.50 557.00,591.00 555.75,590.63 554.50,590.50" fill="url(#g26)" opacity="0.95"/>
<linearGradient id="g27" x1="568.0" y1="0" x2="593.2" y2="0" gradientUnits="userSpaceOnUse"><stop offset="0" stop-color="#a030c8"/><stop offset="0.6" stop-color="#b82db4"/><stop offset="1" stop-color="#d82a90"/></linearGradient>
<circle cx="562.00" cy="609.73" r="1.25" fill="#4a90ff"/>
<circle cx="564.50" cy="609.73" r="1.25" fill="#4a90ff"/>
<circle cx="594.00" cy="609.73" r="1.25" fill="#ff1f58"/>
<circle cx="597.50" cy="609.73" r="1.25" fill="#ff1f58"/>
<circle cx="600.00" cy="609.73" r="1.25" fill="#ff1f58"/>
<circle cx="602.00" cy="609.73" r="1.25" fill="#ff1f58"/>
<circle cx="605.00" cy="609.73" r="1.25" fill="#ff1f58"/>
<circle cx="606.50" cy="609.73" r="1.25" fill="#ff1f58"/>
<circle cx="608.00" cy="609.73" r="1.25" fill="#ff1f58"/>
<circle cx="610.60" cy="609.73" r="1.25" fill="#ff1f58"/>
<circle cx="615.80" cy="609.73" r="1.25" fill="#ff1f58"/>
<circle cx="625.00" cy="609.73" r="1.25" fill="#ff1f58"/>
<circle cx="628.50" cy="609.73" r="1.25" fill="#ff1f58"/>
<circle cx="632.00" cy="609.73" r="1.25" fill="#ff1f58"/>
<circle cx="635.50" cy="609.73" r="1.25" fill="#ff1f58"/>
<circle cx="643.00" cy="609.73" r="1.25" fill="#ff1f58"/>
<polygon points="568.00,608.73 569.00,608.46 570.00,607.73 571.00,606.73 572.00,605.73 573.00,605.00 574.00,604.73 575.00,604.60 576.00,604.23 577.00,603.73 578.00,603.23 579.00,602.86 580.00,602.73 581.17,602.86 582.33,603.23 583.50,603.73 584.67,604.23 585.83,604.60 587.00,604.73 588.03,605.00 589.07,605.73 590.10,606.73 591.13,607.73 592.17,608.46 593.20,608.73 593.20,610.73 592.17,611.00 591.13,611.73 590.10,612.73 589.07,613.73 588.03,614.46 587.00,614.73 585.83,614.86 584.67,615.23 583.50,615.73 582.33,616.23 581.17,616.60 580.00,616.73 579.00,616.60 578.00,616.23 577.00,615.73 576.00,615.23 575.00,614.86 574.00,614.73 573.00,614.46 572.00,613.73 571.00,612.73 570.00,611.73 569.00,611.00 568.00,610.73" fill="url(#g27)" opacity="0.95"/>
<linearGradient id="g28" x1="579.7" y1="0" x2="593.6" y2="0" gradientUnits="userSpaceOnUse"><stop offset="0" stop-color="#ff1f58"/><stop offset="1" stop-color="#ff1f58"/></linearGradient>
<circle cx="554.00" cy="629.96" r="1.25" fill="#4a90ff"/>
<circle cx="560.00" cy="629.96" r="1.25" fill="#4a90ff"/>
<circle cx="561.50" cy="629.96" r="1.25" fill="#4a90ff"/>
<circle cx="563.00" cy="629.96" r="1.25" fill="#4a90ff"/>
<circle cx="564.50" cy="629.96" r="1.25" fill="#4a90ff"/>
<circle cx="566.00" cy="629.96" r="1.25" fill="#4a90ff"/>
<circle cx="567.50" cy="629.96" r="1.25" fill="#4a90ff"/>
<circle cx="570.00" cy="629.96" r="1.25" fill="#4a90ff"/>
<circle cx="571.50" cy="629.96" r="1.25" fill="#4a90ff"/>
<circle cx="573.00" cy="629.96" r="1.25" fill="#4a90ff"/>
<circle cx="574.50" cy="629.96" r="1.25" fill="#4a90ff"/>
<circle cx="576.00" cy="629.96" r="1.25" fill="#4a90ff"/>
<circle cx="577.50" cy="629.96" r="1.25" fill="#4a90ff"/>
<circle cx="579.00" cy="629.96" r="1.25" fill="#4a90ff"/>
<circle cx="594.00" cy="629.96" r="1.25" fill="#ff1f58"/>
<polygon points="579.70,628.96 580.75,628.56 581.80,627.46 582.85,625.96 583.90,624.46 584.95,623.36 586.00,622.96 587.27,623.36 588.53,624.46 589.80,625.96 591.07,627.46 592.33,628.56 593.60,628.96 593.60,630.96 592.33,631.36 591.07,632.46 589.80,633.96 588.53,635.46 587.27,636.56 586.00,636.96 584.95,636.56 583.90,635.46 582.85,633.96 581.80,632.46 580.75,631.36 579.70,630.96" fill="url(#g28)" opacity="0.95"/>
<linearGradient id="g29" x1="579.0" y1="0" x2="592" y2="0" gradientUnits="userSpaceOnUse"><stop offset="0" stop-color="#e0287f"/><stop offset="1" stop-color="#f02570"/></linearGradient>
<circle cx="551.00" cy="650.19" r="1.25" fill="#4a90ff"/>
<circle cx="552.50" cy="650.19" r="1.25" fill="#4a90ff"/>
<circle cx="554.00" cy="650.19" r="1.25" fill="#4a90ff"/>
<circle cx="555.50" cy="650.19" r="1.25" fill="#4a90ff"/>
<circle cx="557.00" cy="650.19" r="1.25" fill="#4a90ff"/>
<circle cx="565.00" cy="650.19" r="1.25" fill="#4a90ff"/>
<circle cx="572.00" cy="650.19" r="1.25" fill="#4a90ff"/>
<circle cx="573.50" cy="650.19" r="1.25" fill="#4a90ff"/>
<circle cx="575.00" cy="650.19" r="1.25" fill="#4a90ff"/>
<circle cx="576.50" cy="650.19" r="1.25" fill="#4a90ff"/>
<circle cx="578.00" cy="650.19" r="1.25" fill="#4a90ff"/>
<circle cx="593.00" cy="650.19" r="1.25" fill="#ff1f58"/>
<polygon points="579.00,649.19 580.08,648.79 581.17,647.69 582.25,646.19 583.33,644.69 584.42,643.59 585.50,643.19 586.58,643.59 587.67,644.69 588.75,646.19 589.83,647.69 590.92,648.79 592.00,649.19 592.00,651.19 590.92,651.59 589.83,652.69 588.75,654.19 587.67,655.69 586.58,656.79 585.50,657.19 584.42,656.79 583.33,655.69 582.25,654.19 581.17,652.69 580.08,651.59 579.00,651.19" fill="url(#g29)" opacity="0.95"/>
<linearGradient id="g30" x1="580.0" y1="0" x2="594" y2="0" gradientUnits="userSpaceOnUse"><stop offset="0" stop-color="#8a3cd8"/><stop offset="0.5" stop-color="#6a58e6"/><stop offset="1" stop-color="#9a35c8"/></linearGradient>
<circle cx="573.00" cy="670.42" r="1.25" fill="#ff1f58"/>
<circle cx="577.00" cy="670.42" r="1.25" fill="#ff1f58"/>
<circle cx="579.00" cy="670.42" r="1.25" fill="#ff1f58"/>
<circle cx="590.00" cy="670.42" r="1.25" fill="#a22ec4"/>
<circle cx="591.50" cy="670.42" r="1.25" fill="#a22ec4"/>
<circle cx="593.00" cy="670.42" r="1.25" fill="#a22ec4"/>
<polygon points="580.00,669.42 580.75,669.03 581.50,667.97 582.25,666.52 583.00,665.07 583.75,664.01 584.50,663.62 585.42,664.01 586.33,665.07 587.25,666.52 588.17,667.97 589.08,669.03 590.00,669.42 590.67,669.45 591.33,669.52 592.00,669.62 592.67,669.72 593.33,669.79 594.00,669.82 594.00,671.02 593.33,671.05 592.67,671.12 592.00,671.22 591.33,671.32 590.67,671.39 590.00,671.42 589.08,671.81 588.17,672.87 587.25,674.32 586.33,675.77 585.42,676.83 584.50,677.22 583.75,676.83 583.00,675.77 582.25,674.32 581.50,672.87 580.75,671.81 580.00,671.42" fill="url(#g30)" opacity="0.95"/>
<linearGradient id="g31" x1="576.0" y1="0" x2="587" y2="0" gradientUnits="userSpaceOnUse"><stop offset="0" stop-color="#ff1f58"/><stop offset="0.8" stop-color="#e0287f"/><stop offset="1" stop-color="#8a3cd8"/></linearGradient>
<circle cx="590.00" cy="690.65" r="1.25" fill="#4a90ff"/>
<circle cx="591.50" cy="690.65" r="1.25" fill="#4a90ff"/>
<circle cx="593.00" cy="690.65" r="1.25" fill="#4a90ff"/>
<circle cx="594.50" cy="690.65" r="1.25" fill="#4a90ff"/>
<circle cx="596.00" cy="690.65" r="1.25" fill="#4a90ff"/>
<circle cx="597.50" cy="690.65" r="1.25" fill="#4a90ff"/>
<circle cx="599.00" cy="690.65" r="1.25" fill="#4a90ff"/>
<circle cx="600.50" cy="690.65" r="1.25" fill="#4a90ff"/>
<circle cx="602.00" cy="690.65" r="1.25" fill="#4a90ff"/>
<circle cx="605.00" cy="690.65" r="1.25" fill="#4a90ff"/>
<circle cx="614.00" cy="690.65" r="1.25" fill="#4a90ff"/>
<circle cx="615.50" cy="690.65" r="1.25" fill="#4a90ff"/>
<polygon points="576.00,689.65 576.83,689.25 577.67,688.15 578.50,686.65 579.33,685.15 580.17,684.05 581.00,683.65 582.00,684.05 583.00,685.15 584.00,686.65 585.00,688.15 586.00,689.25 587.00,689.65 587.00,691.65 586.00,692.05 585.00,693.15 584.00,694.65 583.00,696.15 582.00,697.25 581.00,697.65 580.17,697.25 579.33,696.15 578.50,694.65 577.67,693.15 576.83,692.05 576.00,691.65" fill="url(#g31)" opacity="0.95"/>
<linearGradient id="g32" x1="577.6" y1="0" x2="588.5" y2="0" gradientUnits="userSpaceOnUse"><stop offset="0" stop-color="#6a58e6"/><stop offset="0.5" stop-color="#a030c8"/><stop offset="1" stop-color="#ff1f58"/></linearGradient>
<circle cx="548.00" cy="710.88" r="1.25" fill="#4a90ff"/>
<circle cx="562.00" cy="710.88" r="1.25" fill="#4a90ff"/>
<circle cx="564.00" cy="710.88" r="1.25" fill="#4a90ff"/>
<circle cx="567.00" cy="710.88" r="1.25" fill="#4a90ff"/>
<circle cx="569.00" cy="710.88" r="1.25" fill="#4a90ff"/>
<circle cx="590.00" cy="710.88" r="1.25" fill="#ff1f58"/>
<circle cx="591.50" cy="710.88" r="1.25" fill="#ff1f58"/>
<circle cx="593.00" cy="710.88" r="1.25" fill="#ff1f58"/>
<circle cx="594.50" cy="710.88" r="1.25" fill="#ff1f58"/>
<circle cx="596.00" cy="710.88" r="1.25" fill="#ff1f58"/>
<circle cx="597.50" cy="710.88" r="1.25" fill="#ff1f58"/>
<circle cx="599.00" cy="710.88" r="1.25" fill="#ff1f58"/>
<circle cx="600.50" cy="710.88" r="1.25" fill="#ff1f58"/>
<circle cx="602.00" cy="710.88" r="1.25" fill="#ff1f58"/>
<circle cx="603.50" cy="710.88" r="1.25" fill="#ff1f58"/>
<circle cx="612.00" cy="710.88" r="1.25" fill="#ff1f58"/>
<circle cx="614.00" cy="710.88" r="1.25" fill="#ff1f58"/>
<polygon points="577.60,709.88 578.50,709.48 579.40,708.38 580.30,706.88 581.20,705.38 582.10,704.28 583.00,703.88 583.92,704.28 584.83,705.38 585.75,706.88 586.67,708.38 587.58,709.48 588.50,709.88 588.50,711.88 587.58,712.28 586.67,713.38 585.75,714.88 584.83,716.38 583.92,717.48 583.00,717.88 582.10,717.48 581.20,716.38 580.30,714.88 579.40,713.38 578.50,712.28 577.60,711.88" fill="url(#g32)" opacity="0.95"/>
<linearGradient id="g33" x1="579.3" y1="0" x2="592.5" y2="0" gradientUnits="userSpaceOnUse"><stop offset="0" stop-color="#6a55e0"/><stop offset="1" stop-color="#6a55e0"/></linearGradient>
<circle cx="532.00" cy="731.11" r="1.25" fill="#ff1f58"/>
<circle cx="535.00" cy="731.11" r="1.25" fill="#ff1f58"/>
<circle cx="538.00" cy="731.11" r="1.25" fill="#ff1f58"/>
<circle cx="542.00" cy="731.11" r="1.25" fill="#ff1f58"/>
<circle cx="560.00" cy="731.11" r="1.25" fill="#ff1f58"/>
<circle cx="564.00" cy="731.11" r="1.25" fill="#ff1f58"/>
<circle cx="572.00" cy="731.11" r="1.25" fill="#ff1f58"/>
<circle cx="575.00" cy="731.11" r="1.25" fill="#ff1f58"/>
<circle cx="578.00" cy="731.11" r="1.25" fill="#ff1f58"/>
<polygon points="579.30,730.11 580.33,729.71 581.37,728.61 582.40,727.11 583.43,725.61 584.47,724.51 585.50,724.11 586.67,724.51 587.83,725.61 589.00,727.11 590.17,728.61 591.33,729.71 592.50,730.11 592.50,732.11 591.33,732.51 590.17,733.61 589.00,735.11 587.83,736.61 586.67,737.71 585.50,738.11 584.47,737.71 583.43,736.61 582.40,735.11 581.37,733.61 580.33,732.51 579.30,732.11" fill="url(#g33)" opacity="0.95"/>
<linearGradient id="g34" x1="580.0" y1="0" x2="594" y2="0" gradientUnits="userSpaceOnUse"><stop offset="0" stop-color="#ff1f58"/><stop offset="0.3" stop-color="#8a3cd8"/><stop offset="1" stop-color="#8a3cd8"/></linearGradient>
<circle cx="575.00" cy="751.34" r="1.25" fill="#ff1f58"/>
<circle cx="577.00" cy="751.34" r="1.25" fill="#ff1f58"/>
<circle cx="592.00" cy="751.34" r="1.25" fill="#4a90ff"/>
<circle cx="593.50" cy="751.34" r="1.25" fill="#4a90ff"/>
<circle cx="595.00" cy="751.34" r="1.25" fill="#4a90ff"/>
<circle cx="596.50" cy="751.34" r="1.25" fill="#4a90ff"/>
<circle cx="598.00" cy="751.34" r="1.25" fill="#4a90ff"/>
<circle cx="599.50" cy="751.34" r="1.25" fill="#4a90ff"/>
<circle cx="601.00" cy="751.34" r="1.25" fill="#4a90ff"/>
<polygon points="580.00,750.34 580.83,749.97 581.67,748.97 582.50,747.59 583.33,746.22 584.17,745.21 585.00,744.84 585.83,745.21 586.67,746.22 587.50,747.59 588.33,748.97 589.17,749.97 590.00,750.34 590.67,750.37 591.33,750.44 592.00,750.54 592.67,750.64 593.33,750.71 594.00,750.74 594.00,751.94 593.33,751.97 592.67,752.04 592.00,752.14 591.33,752.24 590.67,752.31 590.00,752.34 589.17,752.71 588.33,753.72 587.50,755.09 586.67,756.47 585.83,757.47 585.00,757.84 584.17,757.47 583.33,756.47 582.50,755.09 581.67,753.72 580.83,752.71 580.00,752.34" fill="url(#g34)" opacity="0.95"/>
<linearGradient id="g35" x1="578.0" y1="0" x2="597" y2="0" gradientUnits="userSpaceOnUse"><stop offset="0" stop-color="#4a90ff"/><stop offset="1" stop-color="#4a90ff"/></linearGradient>
<circle cx="559.00" cy="771.57" r="1.25" fill="#ff1f58"/>
<circle cx="560.50" cy="771.57" r="1.25" fill="#ff1f58"/>
<circle cx="562.00" cy="771.57" r="1.25" fill="#ff1f58"/>
<circle cx="563.50" cy="771.57" r="1.25" fill="#ff1f58"/>
<circle cx="565.00" cy="771.57" r="1.25" fill="#ff1f58"/>
<circle cx="571.00" cy="771.57" r="1.25" fill="#ff1f58"/>
<circle cx="572.50" cy="771.57" r="1.25" fill="#ff1f58"/>
<circle cx="574.00" cy="771.57" r="1.25" fill="#ff1f58"/>
<circle cx="575.50" cy="771.57" r="1.25" fill="#ff1f58"/>
<polygon points="578.00,770.57 578.67,770.30 579.33,769.57 580.00,768.57 580.67,767.57 581.33,766.84 582.00,766.57 582.50,766.44 583.00,766.07 583.50,765.57 584.00,765.07 584.50,764.70 585.00,764.57 586.00,764.84 587.00,765.57 588.00,766.57 589.00,767.57 590.00,768.30 591.00,768.57 592.00,768.72 593.00,769.12 594.00,769.67 595.00,770.22 596.00,770.62 597.00,770.77 597.00,772.37 596.00,772.52 595.00,772.92 594.00,773.47 593.00,774.02 592.00,774.42 591.00,774.57 590.00,774.84 589.00,775.57 588.00,776.57 587.00,777.57 586.00,778.30 585.00,778.57 584.50,778.44 584.00,778.07 583.50,777.57 583.00,777.07 582.50,776.70 582.00,776.57 581.33,776.30 580.67,775.57 580.00,774.57 579.33,773.57 578.67,772.84 578.00,772.57" fill="url(#g35)" opacity="0.95"/>
<line x1="489.00" y1="782.70" x2="681.00" y2="782.70" stroke="#000" stroke-width="2.2" />
<text x="585.00" y="795.80" font-size="11.5" text-anchor="middle" font-weight="normal" font-family='"Liberation Sans", sans-serif' fill="#1a1a1a" >0</text>
<text x="681.00" y="795.80" font-size="11.5" text-anchor="middle" font-weight="normal" font-family='"Liberation Sans", sans-serif' fill="#1a1a1a" >2</text>
<rect x="481.3" y="791.10" width="3.8" height="1.25" fill="#1a1a1a"/>
<text x="486.15" y="795.80" font-size="11.5" text-anchor="start" font-weight="normal" font-family='"Liberation Sans", sans-serif' fill="#1a1a1a" >2</text>
<text x="569.50" y="818.00" font-size="11.5" text-anchor="middle" font-weight="normal" font-family='"Liberation Sans", sans-serif' fill="#1a1a1a" >Actual SHAP value (g/100 g)</text>
<linearGradient id="g36" x1="0" y1="722.9" x2="0" y2="775" gradientUnits="userSpaceOnUse"><stop offset="0" stop-color="#ff1f58"/><stop offset="0.5" stop-color="#a02cc4"/><stop offset="0.85" stop-color="#4a88f8"/><stop offset="1" stop-color="#4a90ff"/></linearGradient>
<path d="M624.2,727.1 A9.399999999999977,4.2 0 0 1 643,727.1 L643,770.8 A9.399999999999977,4.2 0 0 1 624.2,770.8 Z" fill="url(#g36)"/>
<text x="648.50" y="735.20" font-size="11.2" text-anchor="start" font-weight="normal" font-family='"Liberation Sans", sans-serif' fill="#1a1a1a" >High</text>
<text x="649.50" y="770.50" font-size="11.2" text-anchor="start" font-weight="normal" font-family='"Liberation Sans", sans-serif' fill="#1a1a1a" >Low</text>
</svg></body></html>
